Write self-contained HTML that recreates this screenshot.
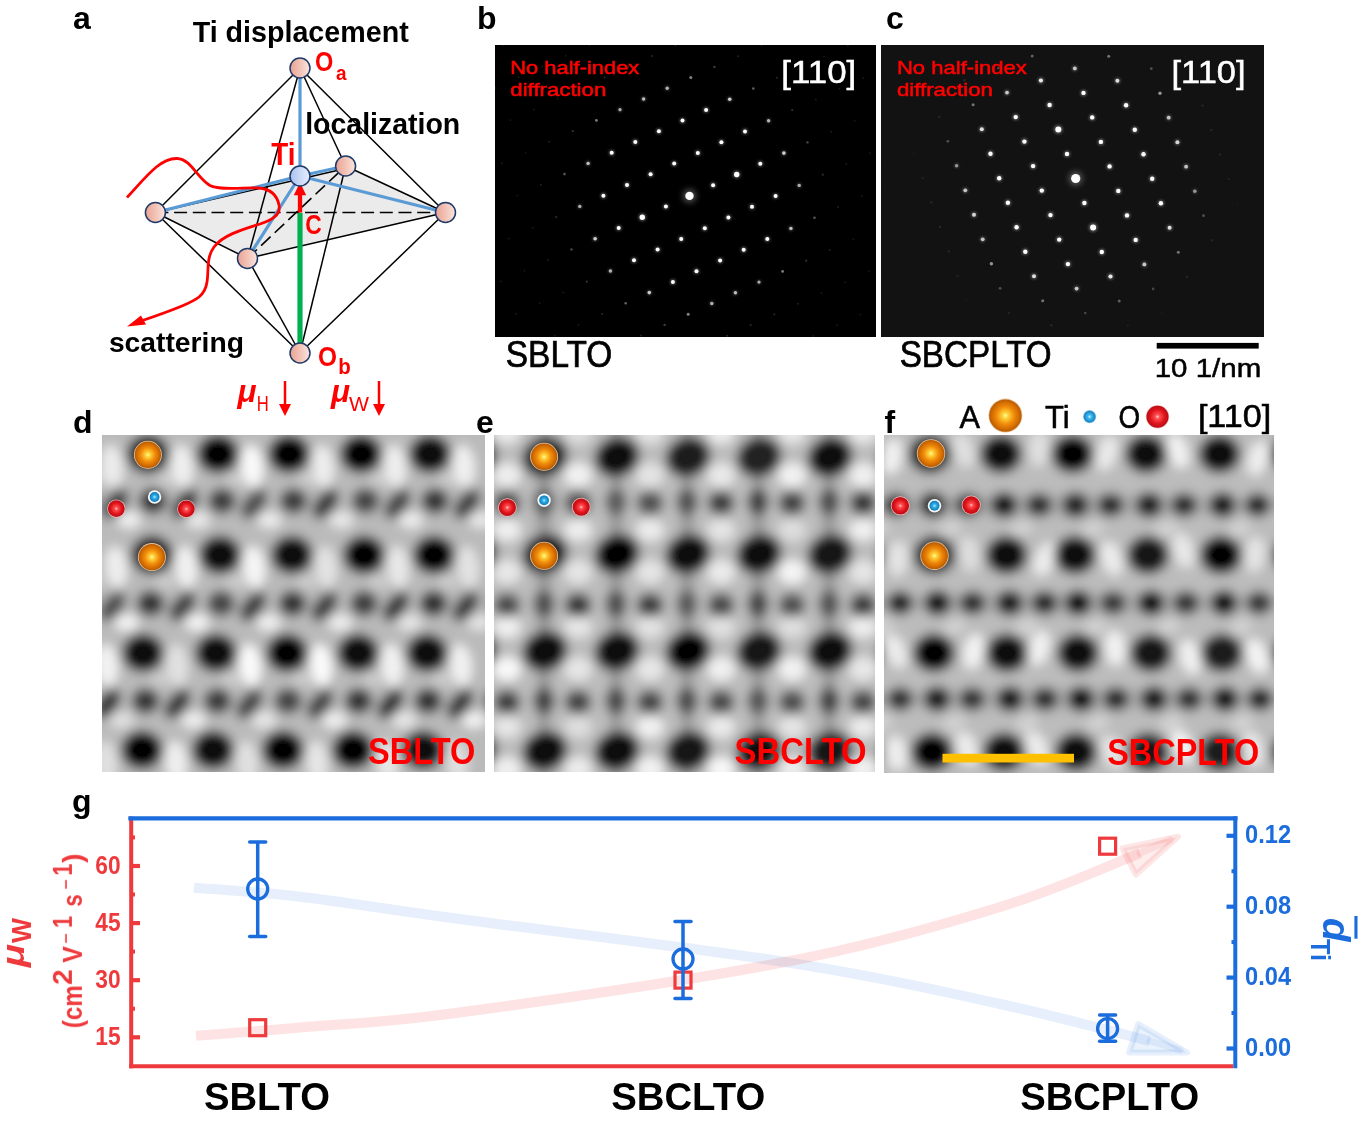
<!DOCTYPE html>
<html><head><meta charset="utf-8"><title>figure</title><style>
html,body{margin:0;padding:0;background:#fff;}
body{width:1371px;height:1147px;overflow:hidden;}
svg{display:block;will-change:transform;}
text{font-family:"Liberation Sans",sans-serif;}
</style></head><body>
<svg width="1371" height="1147" viewBox="0 0 1371 1147">
<defs>
<linearGradient id="gPink" x1="0" y1="0" x2="1" y2="0"><stop offset="0" stop-color="#e9a393"/><stop offset="0.55" stop-color="#f3c6ba"/><stop offset="1" stop-color="#fbe6e0"/></linearGradient>
<linearGradient id="gTi" x1="0" y1="0" x2="1" y2="0"><stop offset="0" stop-color="#a9c0ee"/><stop offset="0.55" stop-color="#cddcf8"/><stop offset="1" stop-color="#e6eeff"/></linearGradient>
<radialGradient id="gA" cx="0.5" cy="0.5" r="0.5"><stop offset="0" stop-color="#ffff9a"/><stop offset="0.18" stop-color="#ffd23a"/><stop offset="0.55" stop-color="#f08a0a"/><stop offset="0.85" stop-color="#d06a00"/><stop offset="1" stop-color="#b45a06"/></radialGradient>
<radialGradient id="gO" cx="0.5" cy="0.5" r="0.5"><stop offset="0" stop-color="#ffd0d0"/><stop offset="0.2" stop-color="#ff5050"/><stop offset="0.65" stop-color="#e0141c"/><stop offset="1" stop-color="#b80c14"/></radialGradient>
<radialGradient id="gB" cx="0.5" cy="0.5" r="0.5"><stop offset="0" stop-color="#b8f0ff"/><stop offset="0.35" stop-color="#30b0e8"/><stop offset="1" stop-color="#1078b8"/></radialGradient>
<radialGradient id="gB2" cx="0.5" cy="0.5" r="0.5"><stop offset="0" stop-color="#c8f4ff"/><stop offset="0.3" stop-color="#40b8ec"/><stop offset="0.8" stop-color="#1888c8"/><stop offset="1" stop-color="#60a8d8" stop-opacity="0.6"/></radialGradient>
<filter id="fb1" x="-5%" y="-5%" width="110%" height="110%"><feGaussianBlur stdDeviation="1"/></filter>
<filter id="glow" x="-100%" y="-100%" width="300%" height="300%"><feGaussianBlur stdDeviation="1.2"/></filter>
<filter id="glow2" x="-100%" y="-100%" width="300%" height="300%"><feGaussianBlur stdDeviation="3"/></filter>
<filter id="abf" x="0" y="0" width="100%" height="100%"><feGaussianBlur stdDeviation="5.5"/></filter>
<filter id="abf2" x="0" y="0" width="100%" height="100%"><feGaussianBlur stdDeviation="4"/></filter>
<clipPath id="cd"><rect x="102" y="435.5" width="383" height="336.1"/></clipPath>
<clipPath id="ce"><rect x="494.2" y="435.5" width="380.8" height="336.1"/></clipPath>
<clipPath id="cf"><rect x="884.2" y="435.5" width="389.8" height="337"/></clipPath>
<clipPath id="cb"><rect x="495" y="45" width="381" height="292"/></clipPath>
<clipPath id="cc"><rect x="881" y="45" width="383" height="292"/></clipPath>
</defs>
<rect width="1371" height="1147" fill="#fff"/>
<polygon points="155.4,212.5 345.6,166 445.5,212.5 247.5,258.4" fill="#ebebeb"/>
<line x1="155.4" y1="212.5" x2="445.5" y2="212.5" stroke="#000" stroke-width="1.6" stroke-dasharray="13,5.7"/>
<line x1="247.5" y1="258.4" x2="345.6" y2="166" stroke="#000" stroke-width="1.6" stroke-dasharray="13,5.7"/>
<line x1="300" y1="68" x2="155.4" y2="212.5" stroke="#000" stroke-width="1.5"/>
<line x1="300" y1="68" x2="445.5" y2="212.5" stroke="#000" stroke-width="1.5"/>
<line x1="300" y1="68" x2="247.5" y2="258.4" stroke="#000" stroke-width="1.5"/>
<line x1="300" y1="68" x2="345.6" y2="166" stroke="#000" stroke-width="1.5"/>
<line x1="300" y1="353" x2="155.4" y2="212.5" stroke="#000" stroke-width="1.5"/>
<line x1="300" y1="353" x2="445.5" y2="212.5" stroke="#000" stroke-width="1.5"/>
<line x1="300" y1="353" x2="247.5" y2="258.4" stroke="#000" stroke-width="1.5"/>
<line x1="300" y1="353" x2="345.6" y2="166" stroke="#000" stroke-width="1.5"/>
<line x1="155.4" y1="212.5" x2="247.5" y2="258.4" stroke="#000" stroke-width="1.5"/>
<line x1="247.5" y1="258.4" x2="445.5" y2="212.5" stroke="#000" stroke-width="1.5"/>
<line x1="445.5" y1="212.5" x2="345.6" y2="166" stroke="#000" stroke-width="1.5"/>
<line x1="155.4" y1="212.5" x2="345.6" y2="168.5" stroke="#000" stroke-width="1.5"/>
<line x1="300" y1="176" x2="300" y2="68" stroke="#5b9bd5" stroke-width="3.2"/>
<line x1="300" y1="176" x2="155.4" y2="212.5" stroke="#5b9bd5" stroke-width="3.2"/>
<line x1="300" y1="176" x2="445.5" y2="212.5" stroke="#5b9bd5" stroke-width="3.2"/>
<line x1="300" y1="176" x2="247.5" y2="258.4" stroke="#5b9bd5" stroke-width="3.2"/>
<line x1="300" y1="176" x2="345.6" y2="166" stroke="#5b9bd5" stroke-width="3.2"/>
<line x1="300" y1="213" x2="300" y2="345" stroke="#00b050" stroke-width="5.2"/>
<line x1="300" y1="212.5" x2="300" y2="193" stroke="#ff0000" stroke-width="4.3"/>
<polygon points="300,182.5 293.8,195.2 306.2,195.2" fill="#ff0000"/>
<path d="M127,197.5 C146,177 160,158 177,158.5 C191,159 197,178 210,185.5 C222,191 245,187 259,188 C270,189 277,195 279,205 C281,215 272,220 260,224 C240,230 222,236 214,247 C206,258 209,270 207,282 C205,296 196,300 182,306 C165,313 150,318 138,322" fill="none" stroke="#ff0000" stroke-width="2.8"/>
<polygon points="127,326.6 141,315.5 146,324.5" fill="#ff0000"/>
<circle cx="300" cy="68" r="10" fill="url(#gPink)" stroke="#1f3a68" stroke-width="1.5"/>
<circle cx="345.6" cy="166" r="10" fill="url(#gPink)" stroke="#1f3a68" stroke-width="1.5"/>
<circle cx="155.4" cy="212.5" r="10" fill="url(#gPink)" stroke="#1f3a68" stroke-width="1.5"/>
<circle cx="445.5" cy="212.5" r="10" fill="url(#gPink)" stroke="#1f3a68" stroke-width="1.5"/>
<circle cx="247.5" cy="258.4" r="10" fill="url(#gPink)" stroke="#1f3a68" stroke-width="1.5"/>
<circle cx="300" cy="353" r="10" fill="url(#gPink)" stroke="#1f3a68" stroke-width="1.5"/>
<circle cx="300" cy="176" r="10" fill="url(#gTi)" stroke="#1f3a68" stroke-width="1.5"/>
<text x="72.9" y="29.3" font-size="32" font-weight="bold" fill="#000" text-anchor="start" >a</text>
<text x="192.7" y="42.1" font-size="30" font-weight="bold" fill="#000" text-anchor="start" textLength="216" lengthAdjust="spacingAndGlyphs" >Ti displacement</text>
<text x="305.2" y="134.4" font-size="30" font-weight="bold" fill="#000" text-anchor="start" textLength="155" lengthAdjust="spacingAndGlyphs" >localization</text>
<text x="108.9" y="351.5" font-size="28" font-weight="bold" fill="#000" text-anchor="start" textLength="135" lengthAdjust="spacingAndGlyphs" >scattering</text>
<text x="271.2" y="164.8" font-size="30.5" font-weight="bold" fill="#ff0000" text-anchor="start" textLength="24.2" lengthAdjust="spacingAndGlyphs" >Ti</text>
<text x="305.3" y="234.2" font-size="28.5" font-weight="bold" fill="#ff0000" text-anchor="start" textLength="16.5" lengthAdjust="spacingAndGlyphs" >C</text>
<text x="315" y="71.3" font-size="27" font-weight="bold" fill="#ff0000" text-anchor="start" textLength="18.3" lengthAdjust="spacingAndGlyphs" >O</text>
<text x="336" y="79.8" font-size="20" font-weight="bold" fill="#ff0000" text-anchor="start" textLength="10.5" lengthAdjust="spacingAndGlyphs" >a</text>
<text x="318" y="366" font-size="27" font-weight="bold" fill="#ff0000" text-anchor="start" textLength="19" lengthAdjust="spacingAndGlyphs" >O</text>
<text x="338.3" y="374" font-size="21.5" font-weight="bold" fill="#ff0000" text-anchor="start" textLength="12.5" lengthAdjust="spacingAndGlyphs" >b</text>
<text x="237.5" y="402.2" font-size="31" font-weight="bold" fill="#ff0000" text-anchor="start" textLength="19" lengthAdjust="spacingAndGlyphs" font-style="italic">μ</text>
<text x="256.8" y="411" font-size="21.5" font-weight="normal" fill="#ff0000" text-anchor="start" textLength="12" lengthAdjust="spacingAndGlyphs" >H</text>
<text x="331" y="402.2" font-size="31" font-weight="bold" fill="#ff0000" text-anchor="start" textLength="19" lengthAdjust="spacingAndGlyphs" font-style="italic">μ</text>
<text x="349" y="411" font-size="21" font-weight="normal" fill="#ff0000" text-anchor="start" textLength="20" lengthAdjust="spacingAndGlyphs" >W</text>
<line x1="285" y1="381" x2="285" y2="408" stroke="#ff0000" stroke-width="2.5"/>
<polygon points="279,404 291,404 285,416" fill="#ff0000"/>
<line x1="379" y1="381" x2="379" y2="408" stroke="#ff0000" stroke-width="2.5"/>
<polygon points="373,404 385,404 379,416" fill="#ff0000"/>
<text x="477" y="29" font-size="32" font-weight="bold" fill="#000" text-anchor="start" >b</text>
<rect x="495" y="45" width="381" height="292" fill="#000"/>
<g clip-path="url(#cb)">
<circle cx="492.4" cy="324.5" r="1.0" fill="rgb(22,22,22)"/>
<circle cx="500.7" cy="281.5" r="1.0" fill="rgb(22,22,22)"/>
<circle cx="516.0" cy="313.8" r="1.0" fill="rgb(22,22,22)"/>
<circle cx="493.7" cy="206.2" r="1.0" fill="rgb(22,22,22)"/>
<circle cx="509.0" cy="238.5" r="1.0" fill="rgb(22,22,22)"/>
<circle cx="524.3" cy="270.8" r="1.0" fill="rgb(22,22,22)"/>
<circle cx="539.6" cy="303.1" r="1.0" fill="rgb(22,22,22)"/>
<circle cx="554.9" cy="335.4" r="1.0" fill="rgb(22,22,22)"/>
<circle cx="502.0" cy="163.2" r="1.0" fill="rgb(22,22,22)"/>
<circle cx="517.3" cy="195.5" r="1.0" fill="rgb(22,22,22)"/>
<circle cx="532.6" cy="227.8" r="1.0" fill="rgb(24,24,24)"/>
<circle cx="547.9" cy="260.1" r="1.0" fill="rgb(28,28,28)"/>
<circle cx="563.2" cy="292.4" r="1.0" fill="rgb(25,25,25)"/>
<circle cx="578.5" cy="324.7" r="1.0" fill="rgb(22,22,22)"/>
<circle cx="495.0" cy="87.9" r="1.0" fill="rgb(22,22,22)"/>
<circle cx="510.3" cy="120.2" r="1.0" fill="rgb(22,22,22)"/>
<circle cx="525.6" cy="152.5" r="1.0" fill="rgb(22,22,22)"/>
<circle cx="540.9" cy="184.8" r="1.0" fill="rgb(33,33,33)"/>
<circle cx="556.2" cy="217.1" r="1.1" fill="rgb(45,45,45)"/>
<circle cx="571.5" cy="249.4" r="1.2" fill="rgb(73,73,73)"/>
<circle cx="586.8" cy="281.7" r="1.1" fill="rgb(51,51,51)"/>
<circle cx="602.1" cy="314.0" r="1.1" fill="rgb(35,35,35)"/>
<circle cx="503.3" cy="44.9" r="1.0" fill="rgb(22,22,22)"/>
<circle cx="518.6" cy="77.2" r="1.0" fill="rgb(22,22,22)"/>
<circle cx="533.9" cy="109.5" r="1.0" fill="rgb(22,22,22)"/>
<circle cx="549.2" cy="141.8" r="1.0" fill="rgb(32,32,32)"/>
<circle cx="564.5" cy="174.1" r="1.3" fill="rgb(87,87,87)"/>
<circle cx="579.8" cy="206.4" r="2.6" fill="rgb(175,175,175)" opacity="0.25" filter="url(#glow)"/>
<circle cx="579.8" cy="206.4" r="1.7" fill="rgb(175,175,175)"/>
<circle cx="595.1" cy="238.7" r="2.9" fill="rgb(209,209,209)" opacity="0.25" filter="url(#glow)"/>
<circle cx="595.1" cy="238.7" r="1.8" fill="rgb(209,209,209)"/>
<circle cx="610.4" cy="271.0" r="2.7" fill="rgb(181,181,181)" opacity="0.25" filter="url(#glow)"/>
<circle cx="610.4" cy="271.0" r="1.7" fill="rgb(181,181,181)"/>
<circle cx="625.7" cy="303.3" r="1.3" fill="rgb(97,97,97)"/>
<circle cx="641.0" cy="335.6" r="1.0" fill="rgb(34,34,34)"/>
<circle cx="542.2" cy="66.5" r="1.0" fill="rgb(22,22,22)"/>
<circle cx="557.5" cy="98.8" r="1.0" fill="rgb(22,22,22)"/>
<circle cx="572.8" cy="131.1" r="1.1" fill="rgb(52,52,52)"/>
<circle cx="588.1" cy="163.4" r="2.8" fill="rgb(194,194,194)" opacity="0.25" filter="url(#glow)"/>
<circle cx="588.1" cy="163.4" r="1.7" fill="rgb(194,194,194)"/>
<circle cx="603.4" cy="195.7" r="3.2" fill="rgb(255,255,255)" opacity="0.25" filter="url(#glow)"/>
<circle cx="603.4" cy="195.7" r="2.0" fill="rgb(255,255,255)"/>
<circle cx="618.7" cy="228.0" r="3.2" fill="rgb(255,255,255)" opacity="0.25" filter="url(#glow)"/>
<circle cx="618.7" cy="228.0" r="2.0" fill="rgb(255,255,255)"/>
<circle cx="634.0" cy="260.3" r="3.2" fill="rgb(255,255,255)" opacity="0.25" filter="url(#glow)"/>
<circle cx="634.0" cy="260.3" r="2.0" fill="rgb(255,255,255)"/>
<circle cx="649.3" cy="292.6" r="2.8" fill="rgb(203,203,203)" opacity="0.25" filter="url(#glow)"/>
<circle cx="649.3" cy="292.6" r="1.8" fill="rgb(203,203,203)"/>
<circle cx="664.6" cy="324.9" r="1.2" fill="rgb(63,63,63)"/>
<circle cx="565.8" cy="55.8" r="1.0" fill="rgb(22,22,22)"/>
<circle cx="581.1" cy="88.1" r="1.0" fill="rgb(30,30,30)"/>
<circle cx="596.4" cy="120.4" r="1.4" fill="rgb(124,124,124)"/>
<circle cx="611.7" cy="152.7" r="3.2" fill="rgb(255,255,255)" opacity="0.25" filter="url(#glow)"/>
<circle cx="611.7" cy="152.7" r="2.0" fill="rgb(255,255,255)"/>
<circle cx="627.0" cy="185.0" r="3.2" fill="rgb(255,255,255)" opacity="0.25" filter="url(#glow)"/>
<circle cx="627.0" cy="185.0" r="2.0" fill="rgb(255,255,255)"/>
<circle cx="642.3" cy="217.3" r="4.3" fill="rgb(255,255,255)" opacity="0.25" filter="url(#glow)"/>
<circle cx="642.3" cy="217.3" r="2.7" fill="rgb(255,255,255)"/>
<circle cx="657.6" cy="249.6" r="3.2" fill="rgb(255,255,255)" opacity="0.25" filter="url(#glow)"/>
<circle cx="657.6" cy="249.6" r="2.0" fill="rgb(255,255,255)"/>
<circle cx="672.9" cy="281.9" r="3.2" fill="rgb(255,255,255)" opacity="0.25" filter="url(#glow)"/>
<circle cx="672.9" cy="281.9" r="2.0" fill="rgb(255,255,255)"/>
<circle cx="688.2" cy="314.2" r="1.5" fill="rgb(132,132,132)"/>
<circle cx="589.4" cy="45.1" r="1.0" fill="rgb(22,22,22)"/>
<circle cx="604.7" cy="77.4" r="1.1" fill="rgb(36,36,36)"/>
<circle cx="620.0" cy="109.7" r="2.6" fill="rgb(172,172,172)" opacity="0.25" filter="url(#glow)"/>
<circle cx="620.0" cy="109.7" r="1.6" fill="rgb(172,172,172)"/>
<circle cx="635.3" cy="142.0" r="3.2" fill="rgb(255,255,255)" opacity="0.25" filter="url(#glow)"/>
<circle cx="635.3" cy="142.0" r="2.0" fill="rgb(255,255,255)"/>
<circle cx="650.6" cy="174.3" r="3.2" fill="rgb(255,255,255)" opacity="0.25" filter="url(#glow)"/>
<circle cx="650.6" cy="174.3" r="2.0" fill="rgb(255,255,255)"/>
<circle cx="665.9" cy="206.6" r="3.2" fill="rgb(255,255,255)" opacity="0.25" filter="url(#glow)"/>
<circle cx="665.9" cy="206.6" r="2.0" fill="rgb(255,255,255)"/>
<circle cx="681.2" cy="238.9" r="3.2" fill="rgb(255,255,255)" opacity="0.25" filter="url(#glow)"/>
<circle cx="681.2" cy="238.9" r="2.0" fill="rgb(255,255,255)"/>
<circle cx="696.5" cy="271.2" r="3.2" fill="rgb(255,255,255)" opacity="0.25" filter="url(#glow)"/>
<circle cx="696.5" cy="271.2" r="2.0" fill="rgb(255,255,255)"/>
<circle cx="711.8" cy="303.5" r="2.7" fill="rgb(176,176,176)" opacity="0.25" filter="url(#glow)"/>
<circle cx="711.8" cy="303.5" r="1.7" fill="rgb(176,176,176)"/>
<circle cx="727.1" cy="335.8" r="1.1" fill="rgb(37,37,37)"/>
<circle cx="628.3" cy="66.7" r="1.1" fill="rgb(38,38,38)"/>
<circle cx="643.6" cy="99.0" r="2.8" fill="rgb(190,190,190)" opacity="0.25" filter="url(#glow)"/>
<circle cx="643.6" cy="99.0" r="1.7" fill="rgb(190,190,190)"/>
<circle cx="658.9" cy="131.3" r="3.2" fill="rgb(255,255,255)" opacity="0.25" filter="url(#glow)"/>
<circle cx="658.9" cy="131.3" r="2.0" fill="rgb(255,255,255)"/>
<circle cx="674.2" cy="163.6" r="3.2" fill="rgb(255,255,255)" opacity="0.25" filter="url(#glow)"/>
<circle cx="674.2" cy="163.6" r="2.0" fill="rgb(255,255,255)"/>
<circle cx="704.8" cy="228.2" r="3.2" fill="rgb(255,255,255)" opacity="0.25" filter="url(#glow)"/>
<circle cx="704.8" cy="228.2" r="2.0" fill="rgb(255,255,255)"/>
<circle cx="720.1" cy="260.5" r="3.2" fill="rgb(255,255,255)" opacity="0.25" filter="url(#glow)"/>
<circle cx="720.1" cy="260.5" r="2.0" fill="rgb(255,255,255)"/>
<circle cx="735.4" cy="292.8" r="2.8" fill="rgb(190,190,190)" opacity="0.25" filter="url(#glow)"/>
<circle cx="735.4" cy="292.8" r="1.7" fill="rgb(190,190,190)"/>
<circle cx="750.7" cy="325.1" r="1.1" fill="rgb(38,38,38)"/>
<circle cx="651.9" cy="56.0" r="1.1" fill="rgb(37,37,37)"/>
<circle cx="667.2" cy="88.3" r="2.7" fill="rgb(176,176,176)" opacity="0.25" filter="url(#glow)"/>
<circle cx="667.2" cy="88.3" r="1.7" fill="rgb(176,176,176)"/>
<circle cx="682.5" cy="120.6" r="3.2" fill="rgb(255,255,255)" opacity="0.25" filter="url(#glow)"/>
<circle cx="682.5" cy="120.6" r="2.0" fill="rgb(255,255,255)"/>
<circle cx="697.8" cy="152.9" r="3.2" fill="rgb(255,255,255)" opacity="0.25" filter="url(#glow)"/>
<circle cx="697.8" cy="152.9" r="2.0" fill="rgb(255,255,255)"/>
<circle cx="713.1" cy="185.2" r="3.2" fill="rgb(255,255,255)" opacity="0.25" filter="url(#glow)"/>
<circle cx="713.1" cy="185.2" r="2.0" fill="rgb(255,255,255)"/>
<circle cx="728.4" cy="217.5" r="3.2" fill="rgb(255,255,255)" opacity="0.25" filter="url(#glow)"/>
<circle cx="728.4" cy="217.5" r="2.0" fill="rgb(255,255,255)"/>
<circle cx="743.7" cy="249.8" r="3.2" fill="rgb(255,255,255)" opacity="0.25" filter="url(#glow)"/>
<circle cx="743.7" cy="249.8" r="2.0" fill="rgb(255,255,255)"/>
<circle cx="759.0" cy="282.1" r="2.6" fill="rgb(172,172,172)" opacity="0.25" filter="url(#glow)"/>
<circle cx="759.0" cy="282.1" r="1.6" fill="rgb(172,172,172)"/>
<circle cx="774.3" cy="314.4" r="1.1" fill="rgb(36,36,36)"/>
<circle cx="675.5" cy="45.3" r="1.0" fill="rgb(32,32,32)"/>
<circle cx="690.8" cy="77.6" r="1.5" fill="rgb(132,132,132)"/>
<circle cx="706.1" cy="109.9" r="3.2" fill="rgb(255,255,255)" opacity="0.25" filter="url(#glow)"/>
<circle cx="706.1" cy="109.9" r="2.0" fill="rgb(255,255,255)"/>
<circle cx="721.4" cy="142.2" r="3.2" fill="rgb(255,255,255)" opacity="0.25" filter="url(#glow)"/>
<circle cx="721.4" cy="142.2" r="2.0" fill="rgb(255,255,255)"/>
<circle cx="736.7" cy="174.5" r="4.3" fill="rgb(255,255,255)" opacity="0.25" filter="url(#glow)"/>
<circle cx="736.7" cy="174.5" r="2.7" fill="rgb(255,255,255)"/>
<circle cx="752.0" cy="206.8" r="3.2" fill="rgb(255,255,255)" opacity="0.25" filter="url(#glow)"/>
<circle cx="752.0" cy="206.8" r="2.0" fill="rgb(255,255,255)"/>
<circle cx="767.3" cy="239.1" r="3.2" fill="rgb(255,255,255)" opacity="0.25" filter="url(#glow)"/>
<circle cx="767.3" cy="239.1" r="2.0" fill="rgb(255,255,255)"/>
<circle cx="782.6" cy="271.4" r="1.4" fill="rgb(124,124,124)"/>
<circle cx="797.9" cy="303.7" r="1.0" fill="rgb(30,30,30)"/>
<circle cx="813.2" cy="336.0" r="1.0" fill="rgb(22,22,22)"/>
<circle cx="714.4" cy="66.9" r="1.2" fill="rgb(63,63,63)"/>
<circle cx="729.7" cy="99.2" r="2.8" fill="rgb(203,203,203)" opacity="0.25" filter="url(#glow)"/>
<circle cx="729.7" cy="99.2" r="1.8" fill="rgb(203,203,203)"/>
<circle cx="745.0" cy="131.5" r="3.2" fill="rgb(255,255,255)" opacity="0.25" filter="url(#glow)"/>
<circle cx="745.0" cy="131.5" r="2.0" fill="rgb(255,255,255)"/>
<circle cx="760.3" cy="163.8" r="3.2" fill="rgb(255,255,255)" opacity="0.25" filter="url(#glow)"/>
<circle cx="760.3" cy="163.8" r="2.0" fill="rgb(255,255,255)"/>
<circle cx="775.6" cy="196.1" r="3.2" fill="rgb(255,255,255)" opacity="0.25" filter="url(#glow)"/>
<circle cx="775.6" cy="196.1" r="2.0" fill="rgb(255,255,255)"/>
<circle cx="790.9" cy="228.4" r="2.8" fill="rgb(194,194,194)" opacity="0.25" filter="url(#glow)"/>
<circle cx="790.9" cy="228.4" r="1.7" fill="rgb(194,194,194)"/>
<circle cx="806.2" cy="260.7" r="1.1" fill="rgb(52,52,52)"/>
<circle cx="821.5" cy="293.0" r="1.0" fill="rgb(22,22,22)"/>
<circle cx="836.8" cy="325.3" r="1.0" fill="rgb(22,22,22)"/>
<circle cx="738.0" cy="56.2" r="1.0" fill="rgb(34,34,34)"/>
<circle cx="753.3" cy="88.5" r="1.3" fill="rgb(97,97,97)"/>
<circle cx="768.6" cy="120.8" r="2.7" fill="rgb(181,181,181)" opacity="0.25" filter="url(#glow)"/>
<circle cx="768.6" cy="120.8" r="1.7" fill="rgb(181,181,181)"/>
<circle cx="783.9" cy="153.1" r="2.9" fill="rgb(209,209,209)" opacity="0.25" filter="url(#glow)"/>
<circle cx="783.9" cy="153.1" r="1.8" fill="rgb(209,209,209)"/>
<circle cx="799.2" cy="185.4" r="2.6" fill="rgb(175,175,175)" opacity="0.25" filter="url(#glow)"/>
<circle cx="799.2" cy="185.4" r="1.7" fill="rgb(175,175,175)"/>
<circle cx="814.5" cy="217.7" r="1.3" fill="rgb(87,87,87)"/>
<circle cx="829.8" cy="250.0" r="1.0" fill="rgb(32,32,32)"/>
<circle cx="845.1" cy="282.3" r="1.0" fill="rgb(22,22,22)"/>
<circle cx="860.4" cy="314.6" r="1.0" fill="rgb(22,22,22)"/>
<circle cx="761.6" cy="45.5" r="1.0" fill="rgb(22,22,22)"/>
<circle cx="776.9" cy="77.8" r="1.1" fill="rgb(35,35,35)"/>
<circle cx="792.2" cy="110.1" r="1.1" fill="rgb(51,51,51)"/>
<circle cx="807.5" cy="142.4" r="1.2" fill="rgb(73,73,73)"/>
<circle cx="822.8" cy="174.7" r="1.1" fill="rgb(45,45,45)"/>
<circle cx="838.1" cy="207.0" r="1.0" fill="rgb(33,33,33)"/>
<circle cx="853.4" cy="239.3" r="1.0" fill="rgb(22,22,22)"/>
<circle cx="868.7" cy="271.6" r="1.0" fill="rgb(22,22,22)"/>
<circle cx="800.5" cy="67.1" r="1.0" fill="rgb(22,22,22)"/>
<circle cx="815.8" cy="99.4" r="1.0" fill="rgb(25,25,25)"/>
<circle cx="831.1" cy="131.7" r="1.0" fill="rgb(28,28,28)"/>
<circle cx="846.4" cy="164.0" r="1.0" fill="rgb(24,24,24)"/>
<circle cx="861.7" cy="196.3" r="1.0" fill="rgb(22,22,22)"/>
<circle cx="877.0" cy="228.6" r="1.0" fill="rgb(22,22,22)"/>
<circle cx="824.1" cy="56.4" r="1.0" fill="rgb(22,22,22)"/>
<circle cx="839.4" cy="88.7" r="1.0" fill="rgb(22,22,22)"/>
<circle cx="854.7" cy="121.0" r="1.0" fill="rgb(22,22,22)"/>
<circle cx="870.0" cy="153.3" r="1.0" fill="rgb(22,22,22)"/>
<circle cx="847.7" cy="45.7" r="1.0" fill="rgb(22,22,22)"/>
<circle cx="863.0" cy="78.0" r="1.0" fill="rgb(22,22,22)"/>
<circle cx="878.3" cy="110.3" r="1.0" fill="rgb(22,22,22)"/>
<circle cx="689.5" cy="195.9" r="6.5" fill="#fff" opacity="0.35" filter="url(#glow2)"/>
<circle cx="689.5" cy="195.9" r="4.2" fill="#fff"/>
</g>
<text x="510.3" y="73.6" font-size="18.5" font-weight="normal" fill="#ff0000" text-anchor="start" textLength="129" lengthAdjust="spacingAndGlyphs" stroke="#ff0000" stroke-width="0.55">No half-index</text>
<text x="510.3" y="95.9" font-size="18.5" font-weight="normal" fill="#ff0000" text-anchor="start" textLength="96" lengthAdjust="spacingAndGlyphs" stroke="#ff0000" stroke-width="0.55">diffraction</text>
<text x="781.3" y="83.2" font-size="31" font-weight="normal" fill="#fff" text-anchor="start" textLength="75" lengthAdjust="spacingAndGlyphs" stroke="#fff" stroke-width="0.5">[110]</text>
<text x="505.8" y="367.1" font-size="36.5" font-weight="normal" fill="#000" text-anchor="start" textLength="106.5" lengthAdjust="spacingAndGlyphs" stroke="#000" stroke-width="0.7">SBLTO</text>
<text x="886" y="29" font-size="32" font-weight="bold" fill="#000" text-anchor="start" >c</text>
<rect x="881" y="45" width="383" height="292" fill="#121212"/>
<g clip-path="url(#cc)">
<circle cx="881.0" cy="275.6" r="1.1" fill="rgb(22,22,22)"/>
<circle cx="889.7" cy="300.1" r="1.1" fill="rgb(22,22,22)"/>
<circle cx="898.4" cy="324.6" r="1.1" fill="rgb(22,22,22)"/>
<circle cx="880.1" cy="165.5" r="1.1" fill="rgb(22,22,22)"/>
<circle cx="888.8" cy="190.0" r="1.1" fill="rgb(22,22,22)"/>
<circle cx="897.5" cy="214.5" r="1.1" fill="rgb(22,22,22)"/>
<circle cx="906.2" cy="239.0" r="1.1" fill="rgb(22,22,22)"/>
<circle cx="914.9" cy="263.5" r="1.1" fill="rgb(22,22,22)"/>
<circle cx="923.6" cy="288.0" r="1.1" fill="rgb(22,22,22)"/>
<circle cx="932.3" cy="312.5" r="1.1" fill="rgb(22,22,22)"/>
<circle cx="941.0" cy="337.0" r="1.1" fill="rgb(22,22,22)"/>
<circle cx="879.2" cy="55.4" r="1.1" fill="rgb(22,22,22)"/>
<circle cx="887.9" cy="79.9" r="1.1" fill="rgb(22,22,22)"/>
<circle cx="896.6" cy="104.4" r="1.1" fill="rgb(22,22,22)"/>
<circle cx="905.3" cy="128.9" r="1.1" fill="rgb(22,22,22)"/>
<circle cx="914.0" cy="153.4" r="1.1" fill="rgb(26,26,26)"/>
<circle cx="922.7" cy="177.9" r="1.2" fill="rgb(34,34,34)"/>
<circle cx="931.4" cy="202.4" r="1.2" fill="rgb(39,39,39)"/>
<circle cx="940.1" cy="226.9" r="1.2" fill="rgb(41,41,41)"/>
<circle cx="948.8" cy="251.4" r="1.2" fill="rgb(39,39,39)"/>
<circle cx="957.5" cy="275.9" r="1.2" fill="rgb(34,34,34)"/>
<circle cx="966.2" cy="300.4" r="1.1" fill="rgb(25,25,25)"/>
<circle cx="974.9" cy="324.9" r="1.1" fill="rgb(22,22,22)"/>
<circle cx="913.1" cy="43.3" r="1.1" fill="rgb(22,22,22)"/>
<circle cx="921.8" cy="67.8" r="1.1" fill="rgb(22,22,22)"/>
<circle cx="930.5" cy="92.3" r="1.1" fill="rgb(22,22,22)"/>
<circle cx="939.2" cy="116.8" r="1.2" fill="rgb(37,37,37)"/>
<circle cx="947.9" cy="141.3" r="1.4" fill="rgb(81,81,81)"/>
<circle cx="956.6" cy="165.8" r="2.7" fill="rgb(151,151,151)" opacity="0.25" filter="url(#glow)"/>
<circle cx="956.6" cy="165.8" r="1.7" fill="rgb(151,151,151)"/>
<circle cx="965.3" cy="190.3" r="3.1" fill="rgb(197,197,197)" opacity="0.25" filter="url(#glow)"/>
<circle cx="965.3" cy="190.3" r="1.9" fill="rgb(197,197,197)"/>
<circle cx="974.0" cy="214.8" r="3.2" fill="rgb(213,213,213)" opacity="0.25" filter="url(#glow)"/>
<circle cx="974.0" cy="214.8" r="2.0" fill="rgb(213,213,213)"/>
<circle cx="982.7" cy="239.3" r="3.1" fill="rgb(196,196,196)" opacity="0.25" filter="url(#glow)"/>
<circle cx="982.7" cy="239.3" r="1.9" fill="rgb(196,196,196)"/>
<circle cx="991.4" cy="263.8" r="1.7" fill="rgb(150,150,150)"/>
<circle cx="1000.1" cy="288.3" r="1.4" fill="rgb(80,80,80)"/>
<circle cx="1008.8" cy="312.8" r="1.2" fill="rgb(36,36,36)"/>
<circle cx="1017.5" cy="337.3" r="1.1" fill="rgb(22,22,22)"/>
<circle cx="955.7" cy="55.7" r="1.1" fill="rgb(22,22,22)"/>
<circle cx="964.4" cy="80.2" r="1.2" fill="rgb(38,38,38)"/>
<circle cx="973.1" cy="104.7" r="1.5" fill="rgb(116,116,116)"/>
<circle cx="981.8" cy="129.2" r="3.3" fill="rgb(223,223,223)" opacity="0.25" filter="url(#glow)"/>
<circle cx="981.8" cy="129.2" r="2.0" fill="rgb(223,223,223)"/>
<circle cx="990.5" cy="153.7" r="3.5" fill="rgb(255,255,255)" opacity="0.25" filter="url(#glow)"/>
<circle cx="990.5" cy="153.7" r="2.2" fill="rgb(255,255,255)"/>
<circle cx="999.2" cy="178.2" r="3.5" fill="rgb(255,255,255)" opacity="0.25" filter="url(#glow)"/>
<circle cx="999.2" cy="178.2" r="2.2" fill="rgb(255,255,255)"/>
<circle cx="1007.9" cy="202.7" r="3.5" fill="rgb(255,255,255)" opacity="0.25" filter="url(#glow)"/>
<circle cx="1007.9" cy="202.7" r="2.2" fill="rgb(255,255,255)"/>
<circle cx="1016.6" cy="227.2" r="3.5" fill="rgb(255,255,255)" opacity="0.25" filter="url(#glow)"/>
<circle cx="1016.6" cy="227.2" r="2.2" fill="rgb(255,255,255)"/>
<circle cx="1025.3" cy="251.7" r="3.5" fill="rgb(255,255,255)" opacity="0.25" filter="url(#glow)"/>
<circle cx="1025.3" cy="251.7" r="2.2" fill="rgb(255,255,255)"/>
<circle cx="1034.0" cy="276.2" r="3.3" fill="rgb(222,222,222)" opacity="0.25" filter="url(#glow)"/>
<circle cx="1034.0" cy="276.2" r="2.0" fill="rgb(222,222,222)"/>
<circle cx="1042.7" cy="300.7" r="1.5" fill="rgb(115,115,115)"/>
<circle cx="1051.4" cy="325.2" r="1.2" fill="rgb(38,38,38)"/>
<circle cx="989.6" cy="43.6" r="1.1" fill="rgb(28,28,28)"/>
<circle cx="998.3" cy="68.1" r="1.3" fill="rgb(72,72,72)"/>
<circle cx="1007.0" cy="92.6" r="3.1" fill="rgb(202,202,202)" opacity="0.25" filter="url(#glow)"/>
<circle cx="1007.0" cy="92.6" r="1.9" fill="rgb(202,202,202)"/>
<circle cx="1015.7" cy="117.1" r="3.5" fill="rgb(255,255,255)" opacity="0.25" filter="url(#glow)"/>
<circle cx="1015.7" cy="117.1" r="2.2" fill="rgb(255,255,255)"/>
<circle cx="1024.4" cy="141.6" r="3.5" fill="rgb(255,255,255)" opacity="0.25" filter="url(#glow)"/>
<circle cx="1024.4" cy="141.6" r="2.2" fill="rgb(255,255,255)"/>
<circle cx="1033.1" cy="166.1" r="3.5" fill="rgb(255,255,255)" opacity="0.25" filter="url(#glow)"/>
<circle cx="1033.1" cy="166.1" r="2.2" fill="rgb(255,255,255)"/>
<circle cx="1041.8" cy="190.6" r="3.5" fill="rgb(255,255,255)" opacity="0.25" filter="url(#glow)"/>
<circle cx="1041.8" cy="190.6" r="2.2" fill="rgb(255,255,255)"/>
<circle cx="1050.5" cy="215.1" r="3.5" fill="rgb(255,255,255)" opacity="0.25" filter="url(#glow)"/>
<circle cx="1050.5" cy="215.1" r="2.2" fill="rgb(255,255,255)"/>
<circle cx="1059.2" cy="239.6" r="3.5" fill="rgb(255,255,255)" opacity="0.25" filter="url(#glow)"/>
<circle cx="1059.2" cy="239.6" r="2.2" fill="rgb(255,255,255)"/>
<circle cx="1067.9" cy="264.1" r="3.5" fill="rgb(255,255,255)" opacity="0.25" filter="url(#glow)"/>
<circle cx="1067.9" cy="264.1" r="2.2" fill="rgb(255,255,255)"/>
<circle cx="1076.6" cy="288.6" r="3.1" fill="rgb(201,201,201)" opacity="0.25" filter="url(#glow)"/>
<circle cx="1076.6" cy="288.6" r="1.9" fill="rgb(201,201,201)"/>
<circle cx="1085.3" cy="313.1" r="1.3" fill="rgb(71,71,71)"/>
<circle cx="1094.0" cy="337.6" r="1.1" fill="rgb(28,28,28)"/>
<circle cx="1032.2" cy="56.0" r="1.5" fill="rgb(97,97,97)"/>
<circle cx="1040.9" cy="80.5" r="3.4" fill="rgb(234,234,234)" opacity="0.25" filter="url(#glow)"/>
<circle cx="1040.9" cy="80.5" r="2.1" fill="rgb(234,234,234)"/>
<circle cx="1049.6" cy="105.0" r="3.5" fill="rgb(255,255,255)" opacity="0.25" filter="url(#glow)"/>
<circle cx="1049.6" cy="105.0" r="2.2" fill="rgb(255,255,255)"/>
<circle cx="1058.3" cy="129.5" r="4.8" fill="rgb(255,255,255)" opacity="0.25" filter="url(#glow)"/>
<circle cx="1058.3" cy="129.5" r="3.0" fill="rgb(255,255,255)"/>
<circle cx="1067.0" cy="154.0" r="3.5" fill="rgb(255,255,255)" opacity="0.25" filter="url(#glow)"/>
<circle cx="1067.0" cy="154.0" r="2.2" fill="rgb(255,255,255)"/>
<circle cx="1084.4" cy="203.0" r="3.5" fill="rgb(255,255,255)" opacity="0.25" filter="url(#glow)"/>
<circle cx="1084.4" cy="203.0" r="2.2" fill="rgb(255,255,255)"/>
<circle cx="1093.1" cy="227.5" r="4.8" fill="rgb(255,255,255)" opacity="0.25" filter="url(#glow)"/>
<circle cx="1093.1" cy="227.5" r="3.0" fill="rgb(255,255,255)"/>
<circle cx="1101.8" cy="252.0" r="3.5" fill="rgb(255,255,255)" opacity="0.25" filter="url(#glow)"/>
<circle cx="1101.8" cy="252.0" r="2.2" fill="rgb(255,255,255)"/>
<circle cx="1110.5" cy="276.5" r="3.4" fill="rgb(234,234,234)" opacity="0.25" filter="url(#glow)"/>
<circle cx="1110.5" cy="276.5" r="2.1" fill="rgb(234,234,234)"/>
<circle cx="1119.2" cy="301.0" r="1.5" fill="rgb(97,97,97)"/>
<circle cx="1127.9" cy="325.5" r="1.1" fill="rgb(32,32,32)"/>
<circle cx="1066.1" cy="43.9" r="1.3" fill="rgb(71,71,71)"/>
<circle cx="1074.8" cy="68.4" r="3.1" fill="rgb(201,201,201)" opacity="0.25" filter="url(#glow)"/>
<circle cx="1074.8" cy="68.4" r="1.9" fill="rgb(201,201,201)"/>
<circle cx="1083.5" cy="92.9" r="3.5" fill="rgb(255,255,255)" opacity="0.25" filter="url(#glow)"/>
<circle cx="1083.5" cy="92.9" r="2.2" fill="rgb(255,255,255)"/>
<circle cx="1092.2" cy="117.4" r="3.5" fill="rgb(255,255,255)" opacity="0.25" filter="url(#glow)"/>
<circle cx="1092.2" cy="117.4" r="2.2" fill="rgb(255,255,255)"/>
<circle cx="1100.9" cy="141.9" r="3.5" fill="rgb(255,255,255)" opacity="0.25" filter="url(#glow)"/>
<circle cx="1100.9" cy="141.9" r="2.2" fill="rgb(255,255,255)"/>
<circle cx="1109.6" cy="166.4" r="3.5" fill="rgb(255,255,255)" opacity="0.25" filter="url(#glow)"/>
<circle cx="1109.6" cy="166.4" r="2.2" fill="rgb(255,255,255)"/>
<circle cx="1118.3" cy="190.9" r="3.5" fill="rgb(255,255,255)" opacity="0.25" filter="url(#glow)"/>
<circle cx="1118.3" cy="190.9" r="2.2" fill="rgb(255,255,255)"/>
<circle cx="1127.0" cy="215.4" r="3.5" fill="rgb(255,255,255)" opacity="0.25" filter="url(#glow)"/>
<circle cx="1127.0" cy="215.4" r="2.2" fill="rgb(255,255,255)"/>
<circle cx="1135.7" cy="239.9" r="3.5" fill="rgb(255,255,255)" opacity="0.25" filter="url(#glow)"/>
<circle cx="1135.7" cy="239.9" r="2.2" fill="rgb(255,255,255)"/>
<circle cx="1144.4" cy="264.4" r="3.1" fill="rgb(202,202,202)" opacity="0.25" filter="url(#glow)"/>
<circle cx="1144.4" cy="264.4" r="1.9" fill="rgb(202,202,202)"/>
<circle cx="1153.1" cy="288.9" r="1.3" fill="rgb(72,72,72)"/>
<circle cx="1161.8" cy="313.4" r="1.1" fill="rgb(28,28,28)"/>
<circle cx="1170.5" cy="337.9" r="1.1" fill="rgb(22,22,22)"/>
<circle cx="1108.7" cy="56.3" r="1.5" fill="rgb(115,115,115)"/>
<circle cx="1117.4" cy="80.8" r="3.3" fill="rgb(222,222,222)" opacity="0.25" filter="url(#glow)"/>
<circle cx="1117.4" cy="80.8" r="2.0" fill="rgb(222,222,222)"/>
<circle cx="1126.1" cy="105.3" r="3.5" fill="rgb(255,255,255)" opacity="0.25" filter="url(#glow)"/>
<circle cx="1126.1" cy="105.3" r="2.2" fill="rgb(255,255,255)"/>
<circle cx="1134.8" cy="129.8" r="3.5" fill="rgb(255,255,255)" opacity="0.25" filter="url(#glow)"/>
<circle cx="1134.8" cy="129.8" r="2.2" fill="rgb(255,255,255)"/>
<circle cx="1143.5" cy="154.3" r="3.5" fill="rgb(255,255,255)" opacity="0.25" filter="url(#glow)"/>
<circle cx="1143.5" cy="154.3" r="2.2" fill="rgb(255,255,255)"/>
<circle cx="1152.2" cy="178.8" r="3.5" fill="rgb(255,255,255)" opacity="0.25" filter="url(#glow)"/>
<circle cx="1152.2" cy="178.8" r="2.2" fill="rgb(255,255,255)"/>
<circle cx="1160.9" cy="203.3" r="3.5" fill="rgb(255,255,255)" opacity="0.25" filter="url(#glow)"/>
<circle cx="1160.9" cy="203.3" r="2.2" fill="rgb(255,255,255)"/>
<circle cx="1169.6" cy="227.8" r="3.3" fill="rgb(223,223,223)" opacity="0.25" filter="url(#glow)"/>
<circle cx="1169.6" cy="227.8" r="2.0" fill="rgb(223,223,223)"/>
<circle cx="1178.3" cy="252.3" r="1.5" fill="rgb(116,116,116)"/>
<circle cx="1187.0" cy="276.8" r="1.2" fill="rgb(38,38,38)"/>
<circle cx="1195.7" cy="301.3" r="1.1" fill="rgb(22,22,22)"/>
<circle cx="1204.4" cy="325.8" r="1.1" fill="rgb(22,22,22)"/>
<circle cx="1142.6" cy="44.2" r="1.2" fill="rgb(36,36,36)"/>
<circle cx="1151.3" cy="68.7" r="1.4" fill="rgb(80,80,80)"/>
<circle cx="1160.0" cy="93.2" r="1.7" fill="rgb(150,150,150)"/>
<circle cx="1168.7" cy="117.7" r="3.1" fill="rgb(196,196,196)" opacity="0.25" filter="url(#glow)"/>
<circle cx="1168.7" cy="117.7" r="1.9" fill="rgb(196,196,196)"/>
<circle cx="1177.4" cy="142.2" r="3.2" fill="rgb(213,213,213)" opacity="0.25" filter="url(#glow)"/>
<circle cx="1177.4" cy="142.2" r="2.0" fill="rgb(213,213,213)"/>
<circle cx="1186.1" cy="166.7" r="3.1" fill="rgb(197,197,197)" opacity="0.25" filter="url(#glow)"/>
<circle cx="1186.1" cy="166.7" r="1.9" fill="rgb(197,197,197)"/>
<circle cx="1194.8" cy="191.2" r="2.7" fill="rgb(151,151,151)" opacity="0.25" filter="url(#glow)"/>
<circle cx="1194.8" cy="191.2" r="1.7" fill="rgb(151,151,151)"/>
<circle cx="1203.5" cy="215.7" r="1.4" fill="rgb(81,81,81)"/>
<circle cx="1212.2" cy="240.2" r="1.2" fill="rgb(37,37,37)"/>
<circle cx="1220.9" cy="264.7" r="1.1" fill="rgb(22,22,22)"/>
<circle cx="1229.6" cy="289.2" r="1.1" fill="rgb(22,22,22)"/>
<circle cx="1238.3" cy="313.7" r="1.1" fill="rgb(22,22,22)"/>
<circle cx="1247.0" cy="338.2" r="1.1" fill="rgb(22,22,22)"/>
<circle cx="1185.2" cy="56.6" r="1.1" fill="rgb(25,25,25)"/>
<circle cx="1193.9" cy="81.1" r="1.2" fill="rgb(34,34,34)"/>
<circle cx="1202.6" cy="105.6" r="1.2" fill="rgb(39,39,39)"/>
<circle cx="1211.3" cy="130.1" r="1.2" fill="rgb(41,41,41)"/>
<circle cx="1220.0" cy="154.6" r="1.2" fill="rgb(39,39,39)"/>
<circle cx="1228.7" cy="179.1" r="1.2" fill="rgb(34,34,34)"/>
<circle cx="1237.4" cy="203.6" r="1.1" fill="rgb(26,26,26)"/>
<circle cx="1246.1" cy="228.1" r="1.1" fill="rgb(22,22,22)"/>
<circle cx="1254.8" cy="252.6" r="1.1" fill="rgb(22,22,22)"/>
<circle cx="1263.5" cy="277.1" r="1.1" fill="rgb(22,22,22)"/>
<circle cx="1219.1" cy="44.5" r="1.1" fill="rgb(22,22,22)"/>
<circle cx="1227.8" cy="69.0" r="1.1" fill="rgb(22,22,22)"/>
<circle cx="1236.5" cy="93.5" r="1.1" fill="rgb(22,22,22)"/>
<circle cx="1245.2" cy="118.0" r="1.1" fill="rgb(22,22,22)"/>
<circle cx="1253.9" cy="142.5" r="1.1" fill="rgb(22,22,22)"/>
<circle cx="1262.6" cy="167.0" r="1.1" fill="rgb(22,22,22)"/>
<circle cx="1261.7" cy="56.9" r="1.1" fill="rgb(22,22,22)"/>
<circle cx="1075.7" cy="178.5" r="6.5" fill="#fff" opacity="0.35" filter="url(#glow2)"/>
<circle cx="1075.7" cy="178.5" r="4.6" fill="#fff"/>
</g>
<text x="896.9" y="73.6" font-size="18.5" font-weight="normal" fill="#ff0000" text-anchor="start" textLength="130" lengthAdjust="spacingAndGlyphs" stroke="#ff0000" stroke-width="0.55">No half-index</text>
<text x="896.9" y="95.9" font-size="18.5" font-weight="normal" fill="#ff0000" text-anchor="start" textLength="96" lengthAdjust="spacingAndGlyphs" stroke="#ff0000" stroke-width="0.55">diffraction</text>
<text x="1171.5" y="83.2" font-size="31" font-weight="normal" fill="#fff" text-anchor="start" textLength="74" lengthAdjust="spacingAndGlyphs" stroke="#fff" stroke-width="0.5">[110]</text>
<text x="899.7" y="367" font-size="36.5" font-weight="normal" fill="#000" text-anchor="start" textLength="152" lengthAdjust="spacingAndGlyphs" stroke="#000" stroke-width="0.7">SBCPLTO</text>
<rect x="1156.7" y="342.9" width="102" height="5.7" fill="#000"/>
<text x="1154.7" y="376.6" font-size="26" font-weight="normal" fill="#000" text-anchor="start" textLength="106.5" lengthAdjust="spacingAndGlyphs" stroke="#000" stroke-width="0.5">10 1/nm</text>
<text x="72.9" y="433" font-size="32" font-weight="bold" fill="#000" text-anchor="start" >d</text>
<g clip-path="url(#cd)">
<rect x="102" y="435.5" width="383" height="336.1" fill="#bababa"/>
<g filter="url(#abf)">
<rect x="72" y="405.5" width="443" height="396.1" fill="#bababa"/>
<ellipse cx="112.0" cy="466.0" rx="11" ry="21" fill="#fff" opacity="0.73" transform="rotate(-6 112.0 466.0)"/>
<ellipse cx="182.0" cy="466.0" rx="11" ry="21" fill="#fff" opacity="0.77" transform="rotate(-6 182.0 466.0)"/>
<ellipse cx="252.0" cy="466.0" rx="11" ry="21" fill="#fff" opacity="0.92" transform="rotate(-6 252.0 466.0)"/>
<ellipse cx="323.0" cy="466.0" rx="11" ry="21" fill="#fff" opacity="0.74" transform="rotate(-6 323.0 466.0)"/>
<ellipse cx="395.0" cy="466.0" rx="11" ry="21" fill="#fff" opacity="0.75" transform="rotate(-6 395.0 466.0)"/>
<ellipse cx="464.0" cy="466.0" rx="11" ry="21" fill="#fff" opacity="0.78" transform="rotate(-6 464.0 466.0)"/>
<ellipse cx="534.0" cy="466.0" rx="11" ry="21" fill="#fff" opacity="0.62" transform="rotate(-6 534.0 466.0)"/>
<ellipse cx="116.0" cy="567.0" rx="11" ry="21" fill="#fff" opacity="0.75" transform="rotate(-6 116.0 567.0)"/>
<ellipse cx="186.0" cy="567.0" rx="11" ry="21" fill="#fff" opacity="0.80" transform="rotate(-6 186.0 567.0)"/>
<ellipse cx="254.0" cy="567.0" rx="11" ry="21" fill="#fff" opacity="0.87" transform="rotate(-6 254.0 567.0)"/>
<ellipse cx="326.0" cy="567.0" rx="11" ry="21" fill="#fff" opacity="0.59" transform="rotate(-6 326.0 567.0)"/>
<ellipse cx="398.0" cy="567.0" rx="11" ry="21" fill="#fff" opacity="0.67" transform="rotate(-6 398.0 567.0)"/>
<ellipse cx="468.0" cy="567.0" rx="11" ry="21" fill="#fff" opacity="0.59" transform="rotate(-6 468.0 567.0)"/>
<ellipse cx="538.0" cy="567.0" rx="11" ry="21" fill="#fff" opacity="0.87" transform="rotate(-6 538.0 567.0)"/>
<ellipse cx="107.0" cy="665.0" rx="11" ry="21" fill="#fff" opacity="0.83" transform="rotate(-6 107.0 665.0)"/>
<ellipse cx="177.0" cy="665.0" rx="11" ry="21" fill="#fff" opacity="0.57" transform="rotate(-6 177.0 665.0)"/>
<ellipse cx="250.0" cy="665.0" rx="11" ry="21" fill="#fff" opacity="0.94" transform="rotate(-6 250.0 665.0)"/>
<ellipse cx="321.0" cy="665.0" rx="11" ry="21" fill="#fff" opacity="0.94" transform="rotate(-6 321.0 665.0)"/>
<ellipse cx="392.0" cy="665.0" rx="11" ry="21" fill="#fff" opacity="0.81" transform="rotate(-6 392.0 665.0)"/>
<ellipse cx="461.0" cy="665.0" rx="11" ry="21" fill="#fff" opacity="0.80" transform="rotate(-6 461.0 665.0)"/>
<ellipse cx="531.0" cy="665.0" rx="11" ry="21" fill="#fff" opacity="0.61" transform="rotate(-6 531.0 665.0)"/>
<ellipse cx="106.0" cy="762.0" rx="11" ry="21" fill="#fff" opacity="0.56" transform="rotate(-6 106.0 762.0)"/>
<ellipse cx="176.0" cy="762.0" rx="11" ry="21" fill="#fff" opacity="0.76" transform="rotate(-6 176.0 762.0)"/>
<ellipse cx="247.0" cy="762.0" rx="11" ry="21" fill="#fff" opacity="0.57" transform="rotate(-6 247.0 762.0)"/>
<ellipse cx="317.0" cy="762.0" rx="11" ry="21" fill="#fff" opacity="0.63" transform="rotate(-6 317.0 762.0)"/>
<ellipse cx="387.0" cy="762.0" rx="11" ry="21" fill="#fff" opacity="0.65" transform="rotate(-6 387.0 762.0)"/>
<ellipse cx="457.0" cy="762.0" rx="11" ry="21" fill="#fff" opacity="0.56" transform="rotate(-6 457.0 762.0)"/>
<ellipse cx="527.0" cy="762.0" rx="11" ry="21" fill="#fff" opacity="0.74" transform="rotate(-6 527.0 762.0)"/>
<ellipse cx="59.0" cy="520.0" rx="12" ry="8" fill="#fff" opacity="0.68"/>
<ellipse cx="97.0" cy="479.0" rx="10" ry="6" fill="#fff" opacity="0.30"/>
<ellipse cx="129.0" cy="520.0" rx="12" ry="8" fill="#fff" opacity="0.80"/>
<ellipse cx="167.0" cy="479.0" rx="10" ry="6" fill="#fff" opacity="0.30"/>
<ellipse cx="198.0" cy="520.0" rx="12" ry="8" fill="#fff" opacity="0.71"/>
<ellipse cx="236.0" cy="479.0" rx="10" ry="6" fill="#fff" opacity="0.30"/>
<ellipse cx="269.5" cy="520.0" rx="12" ry="8" fill="#fff" opacity="0.74"/>
<ellipse cx="307.5" cy="479.0" rx="10" ry="6" fill="#fff" opacity="0.30"/>
<ellipse cx="341.5" cy="520.0" rx="12" ry="8" fill="#fff" opacity="0.70"/>
<ellipse cx="379.5" cy="479.0" rx="10" ry="6" fill="#fff" opacity="0.30"/>
<ellipse cx="411.0" cy="520.0" rx="12" ry="8" fill="#fff" opacity="0.75"/>
<ellipse cx="449.0" cy="479.0" rx="10" ry="6" fill="#fff" opacity="0.30"/>
<ellipse cx="481.0" cy="520.0" rx="12" ry="8" fill="#fff" opacity="0.69"/>
<ellipse cx="519.0" cy="479.0" rx="10" ry="6" fill="#fff" opacity="0.30"/>
<ellipse cx="56.5" cy="622.5" rx="12" ry="8" fill="#fff" opacity="0.63"/>
<ellipse cx="94.5" cy="581.5" rx="10" ry="6" fill="#fff" opacity="0.30"/>
<ellipse cx="126.5" cy="622.5" rx="12" ry="8" fill="#fff" opacity="0.85"/>
<ellipse cx="164.5" cy="581.5" rx="10" ry="6" fill="#fff" opacity="0.30"/>
<ellipse cx="197.0" cy="622.5" rx="12" ry="8" fill="#fff" opacity="0.85"/>
<ellipse cx="235.0" cy="581.5" rx="10" ry="6" fill="#fff" opacity="0.30"/>
<ellipse cx="268.5" cy="622.5" rx="12" ry="8" fill="#fff" opacity="0.80"/>
<ellipse cx="306.5" cy="581.5" rx="10" ry="6" fill="#fff" opacity="0.30"/>
<ellipse cx="340.0" cy="622.5" rx="12" ry="8" fill="#fff" opacity="0.76"/>
<ellipse cx="378.0" cy="581.5" rx="10" ry="6" fill="#fff" opacity="0.30"/>
<ellipse cx="409.5" cy="622.5" rx="12" ry="8" fill="#fff" opacity="0.64"/>
<ellipse cx="447.5" cy="581.5" rx="10" ry="6" fill="#fff" opacity="0.30"/>
<ellipse cx="479.5" cy="622.5" rx="12" ry="8" fill="#fff" opacity="0.62"/>
<ellipse cx="517.5" cy="581.5" rx="10" ry="6" fill="#fff" opacity="0.30"/>
<ellipse cx="51.5" cy="720.0" rx="12" ry="8" fill="#fff" opacity="0.64"/>
<ellipse cx="89.5" cy="679.0" rx="10" ry="6" fill="#fff" opacity="0.30"/>
<ellipse cx="121.5" cy="720.0" rx="12" ry="8" fill="#fff" opacity="0.57"/>
<ellipse cx="159.5" cy="679.0" rx="10" ry="6" fill="#fff" opacity="0.30"/>
<ellipse cx="193.5" cy="720.0" rx="12" ry="8" fill="#fff" opacity="0.78"/>
<ellipse cx="231.5" cy="679.0" rx="10" ry="6" fill="#fff" opacity="0.30"/>
<ellipse cx="264.0" cy="720.0" rx="12" ry="8" fill="#fff" opacity="0.67"/>
<ellipse cx="302.0" cy="679.0" rx="10" ry="6" fill="#fff" opacity="0.30"/>
<ellipse cx="334.5" cy="720.0" rx="12" ry="8" fill="#fff" opacity="0.80"/>
<ellipse cx="372.5" cy="679.0" rx="10" ry="6" fill="#fff" opacity="0.30"/>
<ellipse cx="404.0" cy="720.0" rx="12" ry="8" fill="#fff" opacity="0.67"/>
<ellipse cx="442.0" cy="679.0" rx="10" ry="6" fill="#fff" opacity="0.30"/>
<ellipse cx="474.0" cy="720.0" rx="12" ry="8" fill="#fff" opacity="0.84"/>
<ellipse cx="512.0" cy="679.0" rx="10" ry="6" fill="#fff" opacity="0.30"/>
<ellipse cx="148.0" cy="454.0" rx="21" ry="19.5" fill="rgb(0,0,0)" opacity="1.00"/>
<ellipse cx="218.0" cy="454.0" rx="21" ry="19.5" fill="rgb(6,6,6)" opacity="1.00"/>
<ellipse cx="289.0" cy="454.0" rx="21" ry="19.5" fill="rgb(6,6,6)" opacity="1.00"/>
<ellipse cx="361.0" cy="454.0" rx="21" ry="19.5" fill="rgb(1,1,1)" opacity="1.00"/>
<ellipse cx="430.0" cy="454.0" rx="21" ry="19.5" fill="rgb(15,15,15)" opacity="1.00"/>
<ellipse cx="152.0" cy="555.0" rx="21" ry="19.5" fill="rgb(12,12,12)" opacity="1.00"/>
<ellipse cx="220.0" cy="555.0" rx="21" ry="19.5" fill="rgb(12,12,12)" opacity="1.00"/>
<ellipse cx="292.0" cy="555.0" rx="21" ry="19.5" fill="rgb(13,13,13)" opacity="1.00"/>
<ellipse cx="364.0" cy="555.0" rx="21" ry="19.5" fill="rgb(2,2,2)" opacity="1.00"/>
<ellipse cx="434.0" cy="555.0" rx="21" ry="19.5" fill="rgb(6,6,6)" opacity="1.00"/>
<ellipse cx="143.0" cy="653.0" rx="21" ry="19.5" fill="rgb(8,8,8)" opacity="1.00"/>
<ellipse cx="216.0" cy="653.0" rx="21" ry="19.5" fill="rgb(10,10,10)" opacity="1.00"/>
<ellipse cx="287.0" cy="653.0" rx="21" ry="19.5" fill="rgb(2,2,2)" opacity="1.00"/>
<ellipse cx="358.0" cy="653.0" rx="21" ry="19.5" fill="rgb(9,9,9)" opacity="1.00"/>
<ellipse cx="427.0" cy="653.0" rx="21" ry="19.5" fill="rgb(10,10,10)" opacity="1.00"/>
<ellipse cx="142.0" cy="750.0" rx="21" ry="19.5" fill="rgb(0,0,0)" opacity="1.00"/>
<ellipse cx="213.0" cy="750.0" rx="21" ry="19.5" fill="rgb(13,13,13)" opacity="1.00"/>
<ellipse cx="283.0" cy="750.0" rx="21" ry="19.5" fill="rgb(3,3,3)" opacity="1.00"/>
<ellipse cx="353.0" cy="750.0" rx="21" ry="19.5" fill="rgb(4,4,4)" opacity="1.00"/>
<ellipse cx="423.0" cy="750.0" rx="21" ry="19.5" fill="rgb(7,7,7)" opacity="1.00"/>
<ellipse cx="83.0" cy="501.0" rx="14" ry="13" fill="rgb(72,72,72)" opacity="1.00"/>
<ellipse cx="115.0" cy="504.0" rx="17.5" ry="10" fill="rgb(58,58,58)" opacity="1.00" transform="rotate(-50 115.0 504.0)"/>
<ellipse cx="153.0" cy="501.0" rx="14" ry="13" fill="rgb(50,50,50)" opacity="1.00"/>
<ellipse cx="185.0" cy="504.0" rx="17.5" ry="10" fill="rgb(56,56,56)" opacity="1.00" transform="rotate(-50 185.0 504.0)"/>
<ellipse cx="222.0" cy="501.0" rx="14" ry="13" fill="rgb(64,64,64)" opacity="1.00"/>
<ellipse cx="254.0" cy="504.0" rx="17.5" ry="10" fill="rgb(80,80,80)" opacity="1.00" transform="rotate(-50 254.0 504.0)"/>
<ellipse cx="293.5" cy="501.0" rx="14" ry="13" fill="rgb(65,65,65)" opacity="1.00"/>
<ellipse cx="325.5" cy="504.0" rx="17.5" ry="10" fill="rgb(60,60,60)" opacity="1.00" transform="rotate(-50 325.5 504.0)"/>
<ellipse cx="365.5" cy="501.0" rx="14" ry="13" fill="rgb(71,71,71)" opacity="1.00"/>
<ellipse cx="397.5" cy="504.0" rx="17.5" ry="10" fill="rgb(72,72,72)" opacity="1.00" transform="rotate(-50 397.5 504.0)"/>
<ellipse cx="435.0" cy="501.0" rx="14" ry="13" fill="rgb(56,56,56)" opacity="1.00"/>
<ellipse cx="467.0" cy="504.0" rx="17.5" ry="10" fill="rgb(69,69,69)" opacity="1.00" transform="rotate(-50 467.0 504.0)"/>
<ellipse cx="505.0" cy="501.0" rx="14" ry="13" fill="rgb(66,66,66)" opacity="1.00"/>
<ellipse cx="537.0" cy="504.0" rx="17.5" ry="10" fill="rgb(61,61,61)" opacity="1.00" transform="rotate(-50 537.0 504.0)"/>
<ellipse cx="80.5" cy="603.5" rx="14" ry="13" fill="rgb(73,73,73)" opacity="1.00"/>
<ellipse cx="112.5" cy="606.5" rx="17.5" ry="10" fill="rgb(79,79,79)" opacity="1.00" transform="rotate(-50 112.5 606.5)"/>
<ellipse cx="150.5" cy="603.5" rx="14" ry="13" fill="rgb(54,54,54)" opacity="1.00"/>
<ellipse cx="182.5" cy="606.5" rx="17.5" ry="10" fill="rgb(68,68,68)" opacity="1.00" transform="rotate(-50 182.5 606.5)"/>
<ellipse cx="221.0" cy="603.5" rx="14" ry="13" fill="rgb(70,70,70)" opacity="1.00"/>
<ellipse cx="253.0" cy="606.5" rx="17.5" ry="10" fill="rgb(67,67,67)" opacity="1.00" transform="rotate(-50 253.0 606.5)"/>
<ellipse cx="292.5" cy="603.5" rx="14" ry="13" fill="rgb(53,53,53)" opacity="1.00"/>
<ellipse cx="324.5" cy="606.5" rx="17.5" ry="10" fill="rgb(67,67,67)" opacity="1.00" transform="rotate(-50 324.5 606.5)"/>
<ellipse cx="364.0" cy="603.5" rx="14" ry="13" fill="rgb(63,63,63)" opacity="1.00"/>
<ellipse cx="396.0" cy="606.5" rx="17.5" ry="10" fill="rgb(61,61,61)" opacity="1.00" transform="rotate(-50 396.0 606.5)"/>
<ellipse cx="433.5" cy="603.5" rx="14" ry="13" fill="rgb(50,50,50)" opacity="1.00"/>
<ellipse cx="465.5" cy="606.5" rx="17.5" ry="10" fill="rgb(63,63,63)" opacity="1.00" transform="rotate(-50 465.5 606.5)"/>
<ellipse cx="503.5" cy="603.5" rx="14" ry="13" fill="rgb(75,75,75)" opacity="1.00"/>
<ellipse cx="535.5" cy="606.5" rx="17.5" ry="10" fill="rgb(73,73,73)" opacity="1.00" transform="rotate(-50 535.5 606.5)"/>
<ellipse cx="75.5" cy="701.0" rx="14" ry="13" fill="rgb(59,59,59)" opacity="1.00"/>
<ellipse cx="107.5" cy="704.0" rx="17.5" ry="10" fill="rgb(55,55,55)" opacity="1.00" transform="rotate(-50 107.5 704.0)"/>
<ellipse cx="145.5" cy="701.0" rx="14" ry="13" fill="rgb(56,56,56)" opacity="1.00"/>
<ellipse cx="177.5" cy="704.0" rx="17.5" ry="10" fill="rgb(60,60,60)" opacity="1.00" transform="rotate(-50 177.5 704.0)"/>
<ellipse cx="217.5" cy="701.0" rx="14" ry="13" fill="rgb(62,62,62)" opacity="1.00"/>
<ellipse cx="249.5" cy="704.0" rx="17.5" ry="10" fill="rgb(74,74,74)" opacity="1.00" transform="rotate(-50 249.5 704.0)"/>
<ellipse cx="288.0" cy="701.0" rx="14" ry="13" fill="rgb(70,70,70)" opacity="1.00"/>
<ellipse cx="320.0" cy="704.0" rx="17.5" ry="10" fill="rgb(73,73,73)" opacity="1.00" transform="rotate(-50 320.0 704.0)"/>
<ellipse cx="358.5" cy="701.0" rx="14" ry="13" fill="rgb(53,53,53)" opacity="1.00"/>
<ellipse cx="390.5" cy="704.0" rx="17.5" ry="10" fill="rgb(56,56,56)" opacity="1.00" transform="rotate(-50 390.5 704.0)"/>
<ellipse cx="428.0" cy="701.0" rx="14" ry="13" fill="rgb(54,54,54)" opacity="1.00"/>
<ellipse cx="460.0" cy="704.0" rx="17.5" ry="10" fill="rgb(61,61,61)" opacity="1.00" transform="rotate(-50 460.0 704.0)"/>
<ellipse cx="498.0" cy="701.0" rx="14" ry="13" fill="rgb(64,64,64)" opacity="1.00"/>
<ellipse cx="530.0" cy="704.0" rx="17.5" ry="10" fill="rgb(63,63,63)" opacity="1.00" transform="rotate(-50 530.0 704.0)"/>
</g></g>
<circle cx="147.9" cy="454.8" r="14.0" fill="#e8c49a"/>
<circle cx="147.9" cy="454.8" r="13.2" fill="url(#gA)"/>
<circle cx="151.9" cy="557.1" r="14.0" fill="#e8c49a"/>
<circle cx="151.9" cy="557.1" r="13.2" fill="url(#gA)"/>
<circle cx="116.3" cy="508.6" r="9.1" fill="#f0c0c0"/>
<circle cx="116.3" cy="508.6" r="8.4" fill="url(#gO)"/>
<circle cx="186.3" cy="508.9" r="9.1" fill="#f0c0c0"/>
<circle cx="186.3" cy="508.9" r="8.4" fill="url(#gO)"/>
<circle cx="154.6" cy="497" r="6.7" fill="#f4f8fb"/>
<circle cx="154.6" cy="497" r="4.9" fill="url(#gB)"/>
<text x="368.1" y="764.1" font-size="36.5" font-weight="bold" fill="#ff0000" text-anchor="start" textLength="107.3" lengthAdjust="spacingAndGlyphs" >SBLTO</text>
<text x="476.1" y="433" font-size="32" font-weight="bold" fill="#000" text-anchor="start" >e</text>
<g clip-path="url(#ce)">
<rect x="494.2" y="435.5" width="380.8" height="336.1" fill="#bcbcbc"/>
<g filter="url(#abf)">
<rect x="464.2" y="405.5" width="440.8" height="396.1" fill="#bcbcbc"/>
<ellipse cx="473.0" cy="600.0" rx="7" ry="220" fill="#6a6a6a" opacity="0.45"/>
<ellipse cx="544.0" cy="600.0" rx="7" ry="220" fill="#6a6a6a" opacity="0.45"/>
<ellipse cx="616.0" cy="600.0" rx="7" ry="220" fill="#6a6a6a" opacity="0.45"/>
<ellipse cx="687.0" cy="600.0" rx="7" ry="220" fill="#6a6a6a" opacity="0.45"/>
<ellipse cx="758.0" cy="600.0" rx="7" ry="220" fill="#6a6a6a" opacity="0.45"/>
<ellipse cx="829.0" cy="600.0" rx="7" ry="220" fill="#6a6a6a" opacity="0.45"/>
<ellipse cx="900.0" cy="600.0" rx="7" ry="220" fill="#6a6a6a" opacity="0.45"/>
<ellipse cx="507.0" cy="475.0" rx="14" ry="12" fill="#fff" opacity="0.74"/>
<ellipse cx="507.0" cy="433.0" rx="14" ry="11" fill="#fff" opacity="0.70"/>
<ellipse cx="578.0" cy="475.0" rx="14" ry="12" fill="#fff" opacity="0.80"/>
<ellipse cx="578.0" cy="433.0" rx="14" ry="11" fill="#fff" opacity="0.54"/>
<ellipse cx="650.0" cy="475.0" rx="14" ry="12" fill="#fff" opacity="0.60"/>
<ellipse cx="650.0" cy="433.0" rx="14" ry="11" fill="#fff" opacity="0.61"/>
<ellipse cx="721.0" cy="475.0" rx="14" ry="12" fill="#fff" opacity="0.68"/>
<ellipse cx="721.0" cy="433.0" rx="14" ry="11" fill="#fff" opacity="0.74"/>
<ellipse cx="792.0" cy="475.0" rx="14" ry="12" fill="#fff" opacity="0.81"/>
<ellipse cx="792.0" cy="433.0" rx="14" ry="11" fill="#fff" opacity="0.68"/>
<ellipse cx="863.0" cy="475.0" rx="14" ry="12" fill="#fff" opacity="0.77"/>
<ellipse cx="863.0" cy="433.0" rx="14" ry="11" fill="#fff" opacity="0.70"/>
<ellipse cx="934.0" cy="475.0" rx="14" ry="12" fill="#fff" opacity="0.64"/>
<ellipse cx="934.0" cy="433.0" rx="14" ry="11" fill="#fff" opacity="0.63"/>
<ellipse cx="507.0" cy="572.0" rx="14" ry="12" fill="#fff" opacity="0.65"/>
<ellipse cx="507.0" cy="530.0" rx="14" ry="11" fill="#fff" opacity="0.77"/>
<ellipse cx="578.0" cy="572.0" rx="14" ry="12" fill="#fff" opacity="0.62"/>
<ellipse cx="578.0" cy="530.0" rx="14" ry="11" fill="#fff" opacity="0.75"/>
<ellipse cx="650.0" cy="572.0" rx="14" ry="12" fill="#fff" opacity="0.62"/>
<ellipse cx="650.0" cy="530.0" rx="14" ry="11" fill="#fff" opacity="0.71"/>
<ellipse cx="721.0" cy="572.0" rx="14" ry="12" fill="#fff" opacity="0.70"/>
<ellipse cx="721.0" cy="530.0" rx="14" ry="11" fill="#fff" opacity="0.62"/>
<ellipse cx="792.0" cy="572.0" rx="14" ry="12" fill="#fff" opacity="0.85"/>
<ellipse cx="792.0" cy="530.0" rx="14" ry="11" fill="#fff" opacity="0.51"/>
<ellipse cx="863.0" cy="572.0" rx="14" ry="12" fill="#fff" opacity="0.62"/>
<ellipse cx="863.0" cy="530.0" rx="14" ry="11" fill="#fff" opacity="0.77"/>
<ellipse cx="934.0" cy="572.0" rx="14" ry="12" fill="#fff" opacity="0.75"/>
<ellipse cx="934.0" cy="530.0" rx="14" ry="11" fill="#fff" opacity="0.53"/>
<ellipse cx="507.0" cy="669.0" rx="14" ry="12" fill="#fff" opacity="0.90"/>
<ellipse cx="507.0" cy="627.0" rx="14" ry="11" fill="#fff" opacity="0.78"/>
<ellipse cx="578.0" cy="669.0" rx="14" ry="12" fill="#fff" opacity="0.63"/>
<ellipse cx="578.0" cy="627.0" rx="14" ry="11" fill="#fff" opacity="0.63"/>
<ellipse cx="650.0" cy="669.0" rx="14" ry="12" fill="#fff" opacity="0.64"/>
<ellipse cx="650.0" cy="627.0" rx="14" ry="11" fill="#fff" opacity="0.59"/>
<ellipse cx="721.0" cy="669.0" rx="14" ry="12" fill="#fff" opacity="0.79"/>
<ellipse cx="721.0" cy="627.0" rx="14" ry="11" fill="#fff" opacity="0.55"/>
<ellipse cx="792.0" cy="669.0" rx="14" ry="12" fill="#fff" opacity="0.81"/>
<ellipse cx="792.0" cy="627.0" rx="14" ry="11" fill="#fff" opacity="0.52"/>
<ellipse cx="863.0" cy="669.0" rx="14" ry="12" fill="#fff" opacity="0.65"/>
<ellipse cx="863.0" cy="627.0" rx="14" ry="11" fill="#fff" opacity="0.74"/>
<ellipse cx="934.0" cy="669.0" rx="14" ry="12" fill="#fff" opacity="0.72"/>
<ellipse cx="934.0" cy="627.0" rx="14" ry="11" fill="#fff" opacity="0.63"/>
<ellipse cx="507.0" cy="769.0" rx="14" ry="12" fill="#fff" opacity="0.78"/>
<ellipse cx="507.0" cy="727.0" rx="14" ry="11" fill="#fff" opacity="0.64"/>
<ellipse cx="578.0" cy="769.0" rx="14" ry="12" fill="#fff" opacity="0.72"/>
<ellipse cx="578.0" cy="727.0" rx="14" ry="11" fill="#fff" opacity="0.51"/>
<ellipse cx="650.0" cy="769.0" rx="14" ry="12" fill="#fff" opacity="0.82"/>
<ellipse cx="650.0" cy="727.0" rx="14" ry="11" fill="#fff" opacity="0.79"/>
<ellipse cx="721.0" cy="769.0" rx="14" ry="12" fill="#fff" opacity="0.89"/>
<ellipse cx="721.0" cy="727.0" rx="14" ry="11" fill="#fff" opacity="0.70"/>
<ellipse cx="792.0" cy="769.0" rx="14" ry="12" fill="#fff" opacity="0.71"/>
<ellipse cx="792.0" cy="727.0" rx="14" ry="11" fill="#fff" opacity="0.61"/>
<ellipse cx="863.0" cy="769.0" rx="14" ry="12" fill="#fff" opacity="0.81"/>
<ellipse cx="863.0" cy="727.0" rx="14" ry="11" fill="#fff" opacity="0.70"/>
<ellipse cx="934.0" cy="769.0" rx="14" ry="12" fill="#fff" opacity="0.63"/>
<ellipse cx="934.0" cy="727.0" rx="14" ry="11" fill="#fff" opacity="0.57"/>
<ellipse cx="474.0" cy="457.0" rx="23" ry="20" fill="rgb(5,5,5)" opacity="1.00" transform="rotate(-20 474.0 457.0)"/>
<ellipse cx="545.0" cy="457.0" rx="23" ry="20" fill="rgb(20,20,20)" opacity="1.00" transform="rotate(-20 545.0 457.0)"/>
<ellipse cx="617.0" cy="457.0" rx="23" ry="20" fill="rgb(15,15,15)" opacity="1.00" transform="rotate(-20 617.0 457.0)"/>
<ellipse cx="688.0" cy="457.0" rx="23" ry="20" fill="rgb(30,30,30)" opacity="1.00" transform="rotate(-20 688.0 457.0)"/>
<ellipse cx="759.0" cy="457.0" rx="23" ry="20" fill="rgb(35,35,35)" opacity="1.00" transform="rotate(-20 759.0 457.0)"/>
<ellipse cx="830.0" cy="457.0" rx="23" ry="20" fill="rgb(10,10,10)" opacity="1.00" transform="rotate(-20 830.0 457.0)"/>
<ellipse cx="901.0" cy="457.0" rx="23" ry="20" fill="rgb(20,20,20)" opacity="1.00" transform="rotate(-20 901.0 457.0)"/>
<ellipse cx="474.0" cy="554.0" rx="23" ry="20" fill="rgb(20,20,20)" opacity="1.00" transform="rotate(-20 474.0 554.0)"/>
<ellipse cx="545.0" cy="554.0" rx="23" ry="20" fill="rgb(10,10,10)" opacity="1.00" transform="rotate(-20 545.0 554.0)"/>
<ellipse cx="617.0" cy="554.0" rx="23" ry="20" fill="rgb(5,5,5)" opacity="1.00" transform="rotate(-20 617.0 554.0)"/>
<ellipse cx="688.0" cy="554.0" rx="23" ry="20" fill="rgb(15,15,15)" opacity="1.00" transform="rotate(-20 688.0 554.0)"/>
<ellipse cx="759.0" cy="554.0" rx="23" ry="20" fill="rgb(10,10,10)" opacity="1.00" transform="rotate(-20 759.0 554.0)"/>
<ellipse cx="830.0" cy="554.0" rx="23" ry="20" fill="rgb(25,25,25)" opacity="1.00" transform="rotate(-20 830.0 554.0)"/>
<ellipse cx="901.0" cy="554.0" rx="23" ry="20" fill="rgb(15,15,15)" opacity="1.00" transform="rotate(-20 901.0 554.0)"/>
<ellipse cx="474.0" cy="651.0" rx="23" ry="20" fill="rgb(10,10,10)" opacity="1.00" transform="rotate(-20 474.0 651.0)"/>
<ellipse cx="545.0" cy="651.0" rx="23" ry="20" fill="rgb(15,15,15)" opacity="1.00" transform="rotate(-20 545.0 651.0)"/>
<ellipse cx="617.0" cy="651.0" rx="23" ry="20" fill="rgb(15,15,15)" opacity="1.00" transform="rotate(-20 617.0 651.0)"/>
<ellipse cx="688.0" cy="651.0" rx="23" ry="20" fill="rgb(5,5,5)" opacity="1.00" transform="rotate(-20 688.0 651.0)"/>
<ellipse cx="759.0" cy="651.0" rx="23" ry="20" fill="rgb(25,25,25)" opacity="1.00" transform="rotate(-20 759.0 651.0)"/>
<ellipse cx="830.0" cy="651.0" rx="23" ry="20" fill="rgb(10,10,10)" opacity="1.00" transform="rotate(-20 830.0 651.0)"/>
<ellipse cx="901.0" cy="651.0" rx="23" ry="20" fill="rgb(20,20,20)" opacity="1.00" transform="rotate(-20 901.0 651.0)"/>
<ellipse cx="474.0" cy="751.0" rx="23" ry="20" fill="rgb(15,15,15)" opacity="1.00" transform="rotate(-20 474.0 751.0)"/>
<ellipse cx="545.0" cy="751.0" rx="23" ry="20" fill="rgb(10,10,10)" opacity="1.00" transform="rotate(-20 545.0 751.0)"/>
<ellipse cx="617.0" cy="751.0" rx="23" ry="20" fill="rgb(10,10,10)" opacity="1.00" transform="rotate(-20 617.0 751.0)"/>
<ellipse cx="688.0" cy="751.0" rx="23" ry="20" fill="rgb(20,20,20)" opacity="1.00" transform="rotate(-20 688.0 751.0)"/>
<ellipse cx="759.0" cy="751.0" rx="23" ry="20" fill="rgb(10,10,10)" opacity="1.00" transform="rotate(-20 759.0 751.0)"/>
<ellipse cx="830.0" cy="751.0" rx="23" ry="20" fill="rgb(20,20,20)" opacity="1.00" transform="rotate(-20 830.0 751.0)"/>
<ellipse cx="901.0" cy="751.0" rx="23" ry="20" fill="rgb(15,15,15)" opacity="1.00" transform="rotate(-20 901.0 751.0)"/>
<ellipse cx="473.0" cy="502.0" rx="11" ry="13.5" fill="rgb(76,76,76)" opacity="1.00"/>
<ellipse cx="507.0" cy="503.0" rx="13.5" ry="12" fill="rgb(66,66,66)" opacity="1.00"/>
<ellipse cx="544.0" cy="502.0" rx="11" ry="13.5" fill="rgb(81,81,81)" opacity="1.00"/>
<ellipse cx="578.0" cy="503.0" rx="13.5" ry="12" fill="rgb(73,73,73)" opacity="1.00"/>
<ellipse cx="616.0" cy="502.0" rx="11" ry="13.5" fill="rgb(90,90,90)" opacity="1.00"/>
<ellipse cx="650.0" cy="503.0" rx="13.5" ry="12" fill="rgb(79,79,79)" opacity="1.00"/>
<ellipse cx="687.0" cy="502.0" rx="11" ry="13.5" fill="rgb(81,81,81)" opacity="1.00"/>
<ellipse cx="721.0" cy="503.0" rx="13.5" ry="12" fill="rgb(60,60,60)" opacity="1.00"/>
<ellipse cx="758.0" cy="502.0" rx="11" ry="13.5" fill="rgb(65,65,65)" opacity="1.00"/>
<ellipse cx="792.0" cy="503.0" rx="13.5" ry="12" fill="rgb(67,67,67)" opacity="1.00"/>
<ellipse cx="829.0" cy="502.0" rx="11" ry="13.5" fill="rgb(78,78,78)" opacity="1.00"/>
<ellipse cx="863.0" cy="503.0" rx="13.5" ry="12" fill="rgb(56,56,56)" opacity="1.00"/>
<ellipse cx="900.0" cy="502.0" rx="11" ry="13.5" fill="rgb(81,81,81)" opacity="1.00"/>
<ellipse cx="934.0" cy="503.0" rx="13.5" ry="12" fill="rgb(55,55,55)" opacity="1.00"/>
<ellipse cx="473.0" cy="604.0" rx="11" ry="13.5" fill="rgb(72,72,72)" opacity="1.00"/>
<ellipse cx="507.0" cy="605.0" rx="13.5" ry="12" fill="rgb(76,76,76)" opacity="1.00"/>
<ellipse cx="544.0" cy="604.0" rx="11" ry="13.5" fill="rgb(78,78,78)" opacity="1.00"/>
<ellipse cx="578.0" cy="605.0" rx="13.5" ry="12" fill="rgb(56,56,56)" opacity="1.00"/>
<ellipse cx="616.0" cy="604.0" rx="11" ry="13.5" fill="rgb(77,77,77)" opacity="1.00"/>
<ellipse cx="650.0" cy="605.0" rx="13.5" ry="12" fill="rgb(61,61,61)" opacity="1.00"/>
<ellipse cx="687.0" cy="604.0" rx="11" ry="13.5" fill="rgb(89,89,89)" opacity="1.00"/>
<ellipse cx="721.0" cy="605.0" rx="13.5" ry="12" fill="rgb(74,74,74)" opacity="1.00"/>
<ellipse cx="758.0" cy="604.0" rx="11" ry="13.5" fill="rgb(68,68,68)" opacity="1.00"/>
<ellipse cx="792.0" cy="605.0" rx="13.5" ry="12" fill="rgb(79,79,79)" opacity="1.00"/>
<ellipse cx="829.0" cy="604.0" rx="11" ry="13.5" fill="rgb(82,82,82)" opacity="1.00"/>
<ellipse cx="863.0" cy="605.0" rx="13.5" ry="12" fill="rgb(62,62,62)" opacity="1.00"/>
<ellipse cx="900.0" cy="604.0" rx="11" ry="13.5" fill="rgb(70,70,70)" opacity="1.00"/>
<ellipse cx="934.0" cy="605.0" rx="13.5" ry="12" fill="rgb(57,57,57)" opacity="1.00"/>
<ellipse cx="473.0" cy="701.0" rx="11" ry="13.5" fill="rgb(87,87,87)" opacity="1.00"/>
<ellipse cx="507.0" cy="702.0" rx="13.5" ry="12" fill="rgb(63,63,63)" opacity="1.00"/>
<ellipse cx="544.0" cy="701.0" rx="11" ry="13.5" fill="rgb(66,66,66)" opacity="1.00"/>
<ellipse cx="578.0" cy="702.0" rx="13.5" ry="12" fill="rgb(68,68,68)" opacity="1.00"/>
<ellipse cx="616.0" cy="701.0" rx="11" ry="13.5" fill="rgb(73,73,73)" opacity="1.00"/>
<ellipse cx="650.0" cy="702.0" rx="13.5" ry="12" fill="rgb(70,70,70)" opacity="1.00"/>
<ellipse cx="687.0" cy="701.0" rx="11" ry="13.5" fill="rgb(76,76,76)" opacity="1.00"/>
<ellipse cx="721.0" cy="702.0" rx="13.5" ry="12" fill="rgb(74,74,74)" opacity="1.00"/>
<ellipse cx="758.0" cy="701.0" rx="11" ry="13.5" fill="rgb(85,85,85)" opacity="1.00"/>
<ellipse cx="792.0" cy="702.0" rx="13.5" ry="12" fill="rgb(78,78,78)" opacity="1.00"/>
<ellipse cx="829.0" cy="701.0" rx="11" ry="13.5" fill="rgb(66,66,66)" opacity="1.00"/>
<ellipse cx="863.0" cy="702.0" rx="13.5" ry="12" fill="rgb(71,71,71)" opacity="1.00"/>
<ellipse cx="900.0" cy="701.0" rx="11" ry="13.5" fill="rgb(79,79,79)" opacity="1.00"/>
<ellipse cx="934.0" cy="702.0" rx="13.5" ry="12" fill="rgb(66,66,66)" opacity="1.00"/>
</g></g>
<circle cx="544.1" cy="456.8" r="14.0" fill="#e8c49a"/>
<circle cx="544.1" cy="456.8" r="13.2" fill="url(#gA)"/>
<circle cx="544.1" cy="555.8" r="14.0" fill="#e8c49a"/>
<circle cx="544.1" cy="555.8" r="13.2" fill="url(#gA)"/>
<circle cx="507.4" cy="507.5" r="9.299999999999999" fill="#f0c0c0"/>
<circle cx="507.4" cy="507.5" r="8.6" fill="url(#gO)"/>
<circle cx="581.2" cy="507.1" r="9.299999999999999" fill="#f0c0c0"/>
<circle cx="581.2" cy="507.1" r="8.6" fill="url(#gO)"/>
<circle cx="544.1" cy="500.3" r="6.7" fill="#f4f8fb"/>
<circle cx="544.1" cy="500.3" r="4.9" fill="url(#gB)"/>
<text x="734.6" y="764.1" font-size="36.5" font-weight="bold" fill="#ff0000" text-anchor="start" textLength="132" lengthAdjust="spacingAndGlyphs" >SBCLTO</text>
<text x="884.6" y="433" font-size="32" font-weight="bold" fill="#000" text-anchor="start" >f</text>
<g clip-path="url(#cf)">
<rect x="884.2" y="435.5" width="389.79999999999995" height="337.0" fill="#bcbcbc"/>
<g filter="url(#abf)">
<rect x="854.2" y="405.5" width="449.79999999999995" height="397.0" fill="#bcbcbc"/>
<ellipse cx="1079.0" cy="505.0" rx="220" ry="11" fill="#8c8c8c" opacity="0.35"/>
<ellipse cx="1079.0" cy="603.0" rx="220" ry="11" fill="#8c8c8c" opacity="0.35"/>
<ellipse cx="1079.0" cy="699.0" rx="220" ry="11" fill="#8c8c8c" opacity="0.35"/>
<ellipse cx="892.1" cy="456.6" rx="10" ry="18" fill="#fff" opacity="0.79" transform="rotate(9.204095900805534 892.1 456.6)"/>
<ellipse cx="963.5" cy="450.2" rx="10" ry="18" fill="#fff" opacity="0.54" transform="rotate(-17.64200409157911 963.5 450.2)"/>
<ellipse cx="1038.9" cy="448.8" rx="10" ry="18" fill="#fff" opacity="0.54" transform="rotate(1.5657375923509136 1038.9 448.8)"/>
<ellipse cx="1106.9" cy="453.0" rx="10" ry="18" fill="#fff" opacity="0.69" transform="rotate(16.882825525164904 1106.9 453.0)"/>
<ellipse cx="1178.1" cy="450.9" rx="10" ry="18" fill="#fff" opacity="0.80" transform="rotate(-17.66448390299427 1178.1 450.9)"/>
<ellipse cx="1258.0" cy="458.3" rx="10" ry="18" fill="#fff" opacity="0.75" transform="rotate(16.318267006824122 1258.0 458.3)"/>
<ellipse cx="1331.6" cy="458.1" rx="10" ry="18" fill="#fff" opacity="0.79" transform="rotate(-12.1646011785652 1331.6 458.1)"/>
<ellipse cx="897.9" cy="558.6" rx="10" ry="18" fill="#fff" opacity="0.62" transform="rotate(3.2069299300840335 897.9 558.6)"/>
<ellipse cx="969.4" cy="554.0" rx="10" ry="18" fill="#fff" opacity="0.50" transform="rotate(-9.311931708733711 969.4 554.0)"/>
<ellipse cx="1045.1" cy="559.2" rx="10" ry="18" fill="#fff" opacity="0.73" transform="rotate(24.28405927974351 1045.1 559.2)"/>
<ellipse cx="1111.4" cy="558.5" rx="10" ry="18" fill="#fff" opacity="0.72" transform="rotate(-18.25731194005174 1111.4 558.5)"/>
<ellipse cx="1183.5" cy="550.5" rx="10" ry="18" fill="#fff" opacity="0.66" transform="rotate(-14.868668399970254 1183.5 550.5)"/>
<ellipse cx="1255.0" cy="554.4" rx="10" ry="18" fill="#fff" opacity="0.61" transform="rotate(5.274938896349319 1255.0 554.4)"/>
<ellipse cx="1327.0" cy="554.9" rx="10" ry="18" fill="#fff" opacity="0.54" transform="rotate(-13.227650312574013 1327.0 554.9)"/>
<ellipse cx="895.6" cy="651.1" rx="10" ry="18" fill="#fff" opacity="0.71" transform="rotate(-21.336211103804096 895.6 651.1)"/>
<ellipse cx="973.6" cy="651.5" rx="10" ry="18" fill="#fff" opacity="0.82" transform="rotate(10.944099509833507 973.6 651.5)"/>
<ellipse cx="1039.3" cy="648.0" rx="10" ry="18" fill="#fff" opacity="0.79" transform="rotate(15.304763875205282 1039.3 648.0)"/>
<ellipse cx="1115.1" cy="648.2" rx="10" ry="18" fill="#fff" opacity="0.80" transform="rotate(-4.325454780364279 1115.1 648.2)"/>
<ellipse cx="1190.1" cy="657.2" rx="10" ry="18" fill="#fff" opacity="0.79" transform="rotate(-14.847085362153777 1190.1 657.2)"/>
<ellipse cx="1257.0" cy="656.0" rx="10" ry="18" fill="#fff" opacity="0.84" transform="rotate(-18.149624801636026 1257.0 656.0)"/>
<ellipse cx="1330.8" cy="656.1" rx="10" ry="18" fill="#fff" opacity="0.70" transform="rotate(-14.414215511988498 1330.8 656.1)"/>
<ellipse cx="896.6" cy="753.3" rx="10" ry="18" fill="#fff" opacity="0.74" transform="rotate(-7.032442993288779 896.6 753.3)"/>
<ellipse cx="966.7" cy="749.1" rx="10" ry="18" fill="#fff" opacity="0.72" transform="rotate(-16.775828306599912 966.7 749.1)"/>
<ellipse cx="1036.9" cy="748.2" rx="10" ry="18" fill="#fff" opacity="0.71" transform="rotate(-21.54280378328817 1036.9 748.2)"/>
<ellipse cx="1112.4" cy="752.6" rx="10" ry="18" fill="#fff" opacity="0.63" transform="rotate(-23.058625321423015 1112.4 752.6)"/>
<ellipse cx="1182.7" cy="746.3" rx="10" ry="18" fill="#fff" opacity="0.85" transform="rotate(-24.851272953121185 1182.7 746.3)"/>
<ellipse cx="1253.0" cy="749.2" rx="10" ry="18" fill="#fff" opacity="0.69" transform="rotate(-11.552784008889699 1253.0 749.2)"/>
<ellipse cx="1324.6" cy="751.6" rx="10" ry="18" fill="#fff" opacity="0.78" transform="rotate(-6.665112505990372 1324.6 751.6)"/>
<ellipse cx="878.0" cy="529.0" rx="12" ry="7" fill="#fff" opacity="0.35" transform="rotate(-20 878.0 529.0)"/>
<ellipse cx="950.0" cy="529.0" rx="12" ry="7" fill="#fff" opacity="0.35" transform="rotate(-20 950.0 529.0)"/>
<ellipse cx="1021.0" cy="529.0" rx="12" ry="7" fill="#fff" opacity="0.35" transform="rotate(-20 1021.0 529.0)"/>
<ellipse cx="1092.5" cy="529.0" rx="12" ry="7" fill="#fff" opacity="0.35" transform="rotate(-20 1092.5 529.0)"/>
<ellipse cx="1166.0" cy="529.0" rx="12" ry="7" fill="#fff" opacity="0.35" transform="rotate(-20 1166.0 529.0)"/>
<ellipse cx="1239.5" cy="529.0" rx="12" ry="7" fill="#fff" opacity="0.35" transform="rotate(-20 1239.5 529.0)"/>
<ellipse cx="1312.0" cy="529.0" rx="12" ry="7" fill="#fff" opacity="0.35" transform="rotate(-20 1312.0 529.0)"/>
<ellipse cx="882.0" cy="627.0" rx="12" ry="7" fill="#fff" opacity="0.35" transform="rotate(-20 882.0 627.0)"/>
<ellipse cx="954.5" cy="627.0" rx="12" ry="7" fill="#fff" opacity="0.35" transform="rotate(-20 954.5 627.0)"/>
<ellipse cx="1026.5" cy="627.0" rx="12" ry="7" fill="#fff" opacity="0.35" transform="rotate(-20 1026.5 627.0)"/>
<ellipse cx="1095.0" cy="627.0" rx="12" ry="7" fill="#fff" opacity="0.35" transform="rotate(-20 1095.0 627.0)"/>
<ellipse cx="1168.0" cy="627.0" rx="12" ry="7" fill="#fff" opacity="0.35" transform="rotate(-20 1168.0 627.0)"/>
<ellipse cx="1241.0" cy="627.0" rx="12" ry="7" fill="#fff" opacity="0.35" transform="rotate(-20 1241.0 627.0)"/>
<ellipse cx="1314.0" cy="627.0" rx="12" ry="7" fill="#fff" opacity="0.35" transform="rotate(-20 1314.0 627.0)"/>
<ellipse cx="882.0" cy="723.0" rx="12" ry="7" fill="#fff" opacity="0.35" transform="rotate(-20 882.0 723.0)"/>
<ellipse cx="954.0" cy="723.0" rx="12" ry="7" fill="#fff" opacity="0.35" transform="rotate(-20 954.0 723.0)"/>
<ellipse cx="1027.0" cy="723.0" rx="12" ry="7" fill="#fff" opacity="0.35" transform="rotate(-20 1027.0 723.0)"/>
<ellipse cx="1098.0" cy="723.0" rx="12" ry="7" fill="#fff" opacity="0.35" transform="rotate(-20 1098.0 723.0)"/>
<ellipse cx="1171.0" cy="723.0" rx="12" ry="7" fill="#fff" opacity="0.35" transform="rotate(-20 1171.0 723.0)"/>
<ellipse cx="1242.0" cy="723.0" rx="12" ry="7" fill="#fff" opacity="0.35" transform="rotate(-20 1242.0 723.0)"/>
<ellipse cx="1314.0" cy="723.0" rx="12" ry="7" fill="#fff" opacity="0.35" transform="rotate(-20 1314.0 723.0)"/>
<ellipse cx="858.0" cy="454.0" rx="21" ry="19.5" fill="rgb(0,0,0)" opacity="1.00"/>
<ellipse cx="930.0" cy="454.0" rx="21" ry="19.5" fill="rgb(10,10,10)" opacity="1.00"/>
<ellipse cx="1001.0" cy="454.0" rx="21" ry="19.5" fill="rgb(10,10,10)" opacity="1.00"/>
<ellipse cx="1072.5" cy="454.0" rx="21" ry="19.5" fill="rgb(4,4,4)" opacity="1.00"/>
<ellipse cx="1146.0" cy="454.0" rx="21" ry="19.5" fill="rgb(15,15,15)" opacity="1.00"/>
<ellipse cx="1219.5" cy="454.0" rx="21" ry="19.5" fill="rgb(17,17,17)" opacity="1.00"/>
<ellipse cx="1292.0" cy="454.0" rx="21" ry="19.5" fill="rgb(17,17,17)" opacity="1.00"/>
<ellipse cx="862.0" cy="555.0" rx="21" ry="19.5" fill="rgb(16,16,16)" opacity="1.00"/>
<ellipse cx="934.5" cy="555.0" rx="21" ry="19.5" fill="rgb(26,26,26)" opacity="1.00"/>
<ellipse cx="1006.5" cy="555.0" rx="21" ry="19.5" fill="rgb(15,15,15)" opacity="1.00"/>
<ellipse cx="1075.0" cy="555.0" rx="21" ry="19.5" fill="rgb(7,7,7)" opacity="1.00"/>
<ellipse cx="1148.0" cy="555.0" rx="21" ry="19.5" fill="rgb(21,21,21)" opacity="1.00"/>
<ellipse cx="1221.0" cy="555.0" rx="21" ry="19.5" fill="rgb(6,6,6)" opacity="1.00"/>
<ellipse cx="1294.0" cy="555.0" rx="21" ry="19.5" fill="rgb(9,9,9)" opacity="1.00"/>
<ellipse cx="862.0" cy="653.0" rx="21" ry="19.5" fill="rgb(25,25,25)" opacity="1.00"/>
<ellipse cx="934.0" cy="653.0" rx="21" ry="19.5" fill="rgb(1,1,1)" opacity="1.00"/>
<ellipse cx="1007.0" cy="653.0" rx="21" ry="19.5" fill="rgb(12,12,12)" opacity="1.00"/>
<ellipse cx="1078.0" cy="653.0" rx="21" ry="19.5" fill="rgb(16,16,16)" opacity="1.00"/>
<ellipse cx="1151.0" cy="653.0" rx="21" ry="19.5" fill="rgb(22,22,22)" opacity="1.00"/>
<ellipse cx="1222.0" cy="653.0" rx="21" ry="19.5" fill="rgb(29,29,29)" opacity="1.00"/>
<ellipse cx="1294.0" cy="653.0" rx="21" ry="19.5" fill="rgb(5,5,5)" opacity="1.00"/>
<ellipse cx="860.0" cy="752.0" rx="21" ry="19.5" fill="rgb(23,23,23)" opacity="1.00"/>
<ellipse cx="932.0" cy="752.0" rx="21" ry="19.5" fill="rgb(4,4,4)" opacity="1.00"/>
<ellipse cx="1004.0" cy="752.0" rx="21" ry="19.5" fill="rgb(8,8,8)" opacity="1.00"/>
<ellipse cx="1076.0" cy="752.0" rx="21" ry="19.5" fill="rgb(13,13,13)" opacity="1.00"/>
<ellipse cx="1148.0" cy="752.0" rx="21" ry="19.5" fill="rgb(21,21,21)" opacity="1.00"/>
<ellipse cx="1220.0" cy="752.0" rx="21" ry="19.5" fill="rgb(26,26,26)" opacity="1.00"/>
<ellipse cx="1292.0" cy="752.0" rx="21" ry="19.5" fill="rgb(27,27,27)" opacity="1.00"/>
<ellipse cx="861.0" cy="505.0" rx="13.5" ry="13" fill="rgb(21,21,21)" opacity="1.00"/>
<ellipse cx="896.0" cy="505.0" rx="13" ry="12" fill="rgb(43,43,43)" opacity="1.00"/>
<ellipse cx="933.0" cy="505.0" rx="13.5" ry="13" fill="rgb(28,28,28)" opacity="1.00"/>
<ellipse cx="968.0" cy="505.0" rx="13" ry="12" fill="rgb(53,53,53)" opacity="1.00"/>
<ellipse cx="1004.0" cy="505.0" rx="13.5" ry="13" fill="rgb(22,22,22)" opacity="1.00"/>
<ellipse cx="1039.0" cy="505.0" rx="13" ry="12" fill="rgb(46,46,46)" opacity="1.00"/>
<ellipse cx="1075.5" cy="505.0" rx="13.5" ry="13" fill="rgb(39,39,39)" opacity="1.00"/>
<ellipse cx="1110.5" cy="505.0" rx="13" ry="12" fill="rgb(42,42,42)" opacity="1.00"/>
<ellipse cx="1149.0" cy="505.0" rx="13.5" ry="13" fill="rgb(33,33,33)" opacity="1.00"/>
<ellipse cx="1184.0" cy="505.0" rx="13" ry="12" fill="rgb(44,44,44)" opacity="1.00"/>
<ellipse cx="1222.5" cy="505.0" rx="13.5" ry="13" fill="rgb(28,28,28)" opacity="1.00"/>
<ellipse cx="1257.5" cy="505.0" rx="13" ry="12" fill="rgb(41,41,41)" opacity="1.00"/>
<ellipse cx="1295.0" cy="505.0" rx="13.5" ry="13" fill="rgb(35,35,35)" opacity="1.00"/>
<ellipse cx="1330.0" cy="505.0" rx="13" ry="12" fill="rgb(46,46,46)" opacity="1.00"/>
<ellipse cx="865.0" cy="603.0" rx="13.5" ry="13" fill="rgb(28,28,28)" opacity="1.00"/>
<ellipse cx="900.0" cy="603.0" rx="13" ry="12" fill="rgb(36,36,36)" opacity="1.00"/>
<ellipse cx="937.5" cy="603.0" rx="13.5" ry="13" fill="rgb(25,25,25)" opacity="1.00"/>
<ellipse cx="972.5" cy="603.0" rx="13" ry="12" fill="rgb(47,47,47)" opacity="1.00"/>
<ellipse cx="1009.5" cy="603.0" rx="13.5" ry="13" fill="rgb(29,29,29)" opacity="1.00"/>
<ellipse cx="1044.5" cy="603.0" rx="13" ry="12" fill="rgb(37,37,37)" opacity="1.00"/>
<ellipse cx="1078.0" cy="603.0" rx="13.5" ry="13" fill="rgb(17,17,17)" opacity="1.00"/>
<ellipse cx="1113.0" cy="603.0" rx="13" ry="12" fill="rgb(59,59,59)" opacity="1.00"/>
<ellipse cx="1151.0" cy="603.0" rx="13.5" ry="13" fill="rgb(16,16,16)" opacity="1.00"/>
<ellipse cx="1186.0" cy="603.0" rx="13" ry="12" fill="rgb(54,54,54)" opacity="1.00"/>
<ellipse cx="1224.0" cy="603.0" rx="13.5" ry="13" fill="rgb(15,15,15)" opacity="1.00"/>
<ellipse cx="1259.0" cy="603.0" rx="13" ry="12" fill="rgb(55,55,55)" opacity="1.00"/>
<ellipse cx="1297.0" cy="603.0" rx="13.5" ry="13" fill="rgb(39,39,39)" opacity="1.00"/>
<ellipse cx="1332.0" cy="603.0" rx="13" ry="12" fill="rgb(44,44,44)" opacity="1.00"/>
<ellipse cx="865.0" cy="699.0" rx="13.5" ry="13" fill="rgb(21,21,21)" opacity="1.00"/>
<ellipse cx="900.0" cy="699.0" rx="13" ry="12" fill="rgb(49,49,49)" opacity="1.00"/>
<ellipse cx="937.0" cy="699.0" rx="13.5" ry="13" fill="rgb(30,30,30)" opacity="1.00"/>
<ellipse cx="972.0" cy="699.0" rx="13" ry="12" fill="rgb(52,52,52)" opacity="1.00"/>
<ellipse cx="1010.0" cy="699.0" rx="13.5" ry="13" fill="rgb(27,27,27)" opacity="1.00"/>
<ellipse cx="1045.0" cy="699.0" rx="13" ry="12" fill="rgb(45,45,45)" opacity="1.00"/>
<ellipse cx="1081.0" cy="699.0" rx="13.5" ry="13" fill="rgb(16,16,16)" opacity="1.00"/>
<ellipse cx="1116.0" cy="699.0" rx="13" ry="12" fill="rgb(44,44,44)" opacity="1.00"/>
<ellipse cx="1154.0" cy="699.0" rx="13.5" ry="13" fill="rgb(31,31,31)" opacity="1.00"/>
<ellipse cx="1189.0" cy="699.0" rx="13" ry="12" fill="rgb(48,48,48)" opacity="1.00"/>
<ellipse cx="1225.0" cy="699.0" rx="13.5" ry="13" fill="rgb(19,19,19)" opacity="1.00"/>
<ellipse cx="1260.0" cy="699.0" rx="13" ry="12" fill="rgb(39,39,39)" opacity="1.00"/>
<ellipse cx="1297.0" cy="699.0" rx="13.5" ry="13" fill="rgb(16,16,16)" opacity="1.00"/>
<ellipse cx="1332.0" cy="699.0" rx="13" ry="12" fill="rgb(38,38,38)" opacity="1.00"/>
</g></g>
<circle cx="931" cy="453.5" r="14.200000000000001" fill="#e8c49a"/>
<circle cx="931" cy="453.5" r="13.4" fill="url(#gA)"/>
<circle cx="934.5" cy="555.7" r="14.200000000000001" fill="#e8c49a"/>
<circle cx="934.5" cy="555.7" r="13.4" fill="url(#gA)"/>
<circle cx="900.3" cy="505.8" r="9.5" fill="#f0c0c0"/>
<circle cx="900.3" cy="505.8" r="8.8" fill="url(#gO)"/>
<circle cx="971.2" cy="505.1" r="9.5" fill="#f0c0c0"/>
<circle cx="971.2" cy="505.1" r="8.8" fill="url(#gO)"/>
<circle cx="934.5" cy="505.8" r="6.8" fill="#f4f8fb"/>
<circle cx="934.5" cy="505.8" r="5" fill="url(#gB)"/>
<rect x="942.5" y="753.8" width="131.5" height="8.7" fill="#ffc000"/>
<text x="1107.2" y="765" font-size="36.5" font-weight="bold" fill="#ff0000" text-anchor="start" textLength="152" lengthAdjust="spacingAndGlyphs" >SBCPLTO</text>
<text x="959.6" y="427.5" font-size="32" font-weight="normal" fill="#000" text-anchor="start" textLength="20.5" lengthAdjust="spacingAndGlyphs" stroke="#000" stroke-width="0.55">A</text>
<circle cx="1005.4" cy="415.6" r="17.0" fill="#e8c49a"/>
<circle cx="1005.4" cy="415.6" r="16.2" fill="url(#gA)"/>
<text x="1045" y="427.5" font-size="32" font-weight="normal" fill="#000" text-anchor="start" textLength="24.6" lengthAdjust="spacingAndGlyphs" stroke="#000" stroke-width="0.55">Ti</text>
<circle cx="1089.6" cy="416.7" r="6.6" fill="url(#gB2)"/>
<text x="1118.5" y="427.5" font-size="32" font-weight="normal" fill="#000" text-anchor="start" textLength="21.6" lengthAdjust="spacingAndGlyphs" stroke="#000" stroke-width="0.55">O</text>
<circle cx="1157.5" cy="416.7" r="11.7" fill="#f0c0c0"/>
<circle cx="1157.5" cy="416.7" r="11" fill="url(#gO)"/>
<text x="1197.9" y="426.6" font-size="31" font-weight="normal" fill="#000" text-anchor="start" textLength="73.4" lengthAdjust="spacingAndGlyphs" stroke="#000" stroke-width="0.55">[110]</text>
<text x="72" y="812" font-size="32" font-weight="bold" fill="#000" text-anchor="start" >g</text>
<path d="M194.0,887.7 C211.7,889.2 256.4,891.7 300.0,896.8 C343.6,901.9 374.9,907.6 455.7,918.5 C536.5,929.4 694.3,947.8 785.0,962.0 C875.7,976.2 939.2,990.8 1000.0,1004.0 C1060.8,1017.2 1125.0,1034.8 1150.0,1041.0" fill="none" stroke="#1b6cdc" stroke-opacity="0.11" stroke-width="10"/>
<path d="M196.0,1035.8 C213.3,1034.4 256.7,1031.3 300.0,1027.5 C343.3,1023.7 374.9,1023.9 455.7,1013.0 C536.5,1002.1 694.3,979.7 785.0,962.0 C875.7,944.3 940.8,925.2 1000.0,907.0 C1059.2,888.8 1116.7,862.0 1140.0,853.0" fill="none" stroke="#ee3a3c" stroke-opacity="0.14" stroke-width="10"/>
<polygon points="1177.9,836.7 1122.4,848.5 1136,874.6" fill="#ee3a3c" fill-opacity="0.09" stroke="#ee3a3c" stroke-width="6" stroke-linejoin="round" stroke-opacity="0.13"/>
<path d="M1140,853 L1170,840" stroke="#ee3a3c" stroke-opacity="0.1" stroke-width="7" stroke-linecap="round"/>
<polygon points="1187,1052.5 1138.2,1024.2 1129.2,1052.5" fill="#1b6cdc" fill-opacity="0.09" stroke="#1b6cdc" stroke-width="6" stroke-linejoin="round" stroke-opacity="0.11"/>
<path d="M1150,1041 L1180,1050" stroke="#1b6cdc" stroke-opacity="0.08" stroke-width="7" stroke-linecap="round"/>
<line x1="131.2" y1="816.5" x2="131.2" y2="1068.2" stroke="#ee3a3c" stroke-width="4"/>
<line x1="129.2" y1="1066.2" x2="1233.3" y2="1066.2" stroke="#ee3a3c" stroke-width="4"/>
<line x1="128.3" y1="818.4" x2="1237.5" y2="818.4" stroke="#1b6cdc" stroke-width="4.4"/>
<line x1="1235.3" y1="816.3" x2="1235.3" y2="1068.2" stroke="#1b6cdc" stroke-width="4"/>
<line x1="131" y1="1037.3" x2="140" y2="1037.3" stroke="#ee3a3c" stroke-width="4.2"/>
<text x="95.3" y="1045.1950000000002" font-size="26" font-weight="bold" fill="#ee3a3c" text-anchor="start" textLength="25.3" lengthAdjust="spacingAndGlyphs" >15</text>
<line x1="131" y1="980.2" x2="140" y2="980.2" stroke="#ee3a3c" stroke-width="4.2"/>
<text x="95.3" y="988.09" font-size="26" font-weight="bold" fill="#ee3a3c" text-anchor="start" textLength="25.3" lengthAdjust="spacingAndGlyphs" >30</text>
<line x1="131" y1="923.1" x2="140" y2="923.1" stroke="#ee3a3c" stroke-width="4.2"/>
<text x="95.3" y="930.985" font-size="26" font-weight="bold" fill="#ee3a3c" text-anchor="start" textLength="25.3" lengthAdjust="spacingAndGlyphs" >45</text>
<line x1="131" y1="866.0" x2="140" y2="866.0" stroke="#ee3a3c" stroke-width="4.2"/>
<text x="95.3" y="873.8800000000001" font-size="26" font-weight="bold" fill="#ee3a3c" text-anchor="start" textLength="25.3" lengthAdjust="spacingAndGlyphs" >60</text>
<line x1="131" y1="1008.7" x2="135" y2="1008.7" stroke="#ee3a3c" stroke-width="4"/>
<line x1="131" y1="951.6" x2="135" y2="951.6" stroke="#ee3a3c" stroke-width="4"/>
<line x1="131" y1="894.5" x2="135" y2="894.5" stroke="#ee3a3c" stroke-width="4"/>
<line x1="131" y1="837.4" x2="135" y2="837.4" stroke="#ee3a3c" stroke-width="4"/>
<line x1="1226.5" y1="1048.5" x2="1235.5" y2="1048.5" stroke="#1b6cdc" stroke-width="4.2"/>
<text x="1245.1" y="1056.1" font-size="26" font-weight="bold" fill="#1b6cdc" text-anchor="start" textLength="46" lengthAdjust="spacingAndGlyphs" >0.00</text>
<line x1="1226.5" y1="977.6" x2="1235.5" y2="977.6" stroke="#1b6cdc" stroke-width="4.2"/>
<text x="1245.1" y="985.2" font-size="26" font-weight="bold" fill="#1b6cdc" text-anchor="start" textLength="46" lengthAdjust="spacingAndGlyphs" >0.04</text>
<line x1="1226.5" y1="906.7" x2="1235.5" y2="906.7" stroke="#1b6cdc" stroke-width="4.2"/>
<text x="1245.1" y="914.3000000000001" font-size="26" font-weight="bold" fill="#1b6cdc" text-anchor="start" textLength="46" lengthAdjust="spacingAndGlyphs" >0.08</text>
<line x1="1226.5" y1="835.8" x2="1235.5" y2="835.8" stroke="#1b6cdc" stroke-width="4.2"/>
<text x="1245.1" y="843.4" font-size="26" font-weight="bold" fill="#1b6cdc" text-anchor="start" textLength="46" lengthAdjust="spacingAndGlyphs" >0.12</text>
<line x1="1231.5" y1="1013.0" x2="1235.5" y2="1013.0" stroke="#1b6cdc" stroke-width="4"/>
<line x1="1231.5" y1="942.1" x2="1235.5" y2="942.1" stroke="#1b6cdc" stroke-width="4"/>
<line x1="1231.5" y1="871.2" x2="1235.5" y2="871.2" stroke="#1b6cdc" stroke-width="4"/>
<rect x="249.7" y="1019.7" width="16" height="16" fill="none" stroke="#ee3a3c" stroke-width="3.2"/>
<rect x="675.0" y="972.1" width="16" height="16" fill="none" stroke="#ee3a3c" stroke-width="3.2"/>
<rect x="1099.6" y="838.2" width="16" height="16" fill="none" stroke="#ee3a3c" stroke-width="3.2"/>
<line x1="257.7" y1="842" x2="257.7" y2="936.6" stroke="#1b6cdc" stroke-width="3.5"/>
<line x1="249.7" y1="842" x2="265.7" y2="842" stroke="#1b6cdc" stroke-width="3.5" stroke-linecap="round"/>
<line x1="249.7" y1="936.6" x2="265.7" y2="936.6" stroke="#1b6cdc" stroke-width="3.5" stroke-linecap="round"/>
<ellipse cx="257.7" cy="889" rx="10" ry="10" fill="none" stroke="#1b6cdc" stroke-width="3.3"/>
<line x1="683" y1="921.6" x2="683" y2="998.4" stroke="#1b6cdc" stroke-width="3.5"/>
<line x1="675" y1="921.6" x2="691" y2="921.6" stroke="#1b6cdc" stroke-width="3.5" stroke-linecap="round"/>
<line x1="675" y1="998.4" x2="691" y2="998.4" stroke="#1b6cdc" stroke-width="3.5" stroke-linecap="round"/>
<ellipse cx="683" cy="959" rx="10" ry="10" fill="none" stroke="#1b6cdc" stroke-width="3.3"/>
<line x1="1107.6" y1="1015" x2="1107.6" y2="1041.3" stroke="#1b6cdc" stroke-width="3.5"/>
<line x1="1099.6" y1="1015" x2="1115.6" y2="1015" stroke="#1b6cdc" stroke-width="3.5" stroke-linecap="round"/>
<line x1="1099.6" y1="1041.3" x2="1115.6" y2="1041.3" stroke="#1b6cdc" stroke-width="3.5" stroke-linecap="round"/>
<ellipse cx="1107.6" cy="1028.6" rx="10" ry="10" fill="none" stroke="#1b6cdc" stroke-width="3.3"/>
<text x="204" y="1109.8" font-size="38.5" font-weight="bold" fill="#000" text-anchor="start" textLength="126" lengthAdjust="spacingAndGlyphs" >SBLTO</text>
<text x="611.2" y="1109.8" font-size="38.5" font-weight="bold" fill="#000" text-anchor="start" textLength="154" lengthAdjust="spacingAndGlyphs" >SBCLTO</text>
<text x="1020.2" y="1110" font-size="38.5" font-weight="bold" fill="#000" text-anchor="start" textLength="179" lengthAdjust="spacingAndGlyphs" >SBCPLTO</text>
<g transform="translate(23.8,966) rotate(-90)">
<text x="-1" y="0" font-size="32" font-weight="bold" font-style="italic" fill="#ee3a3c" textLength="23" lengthAdjust="spacingAndGlyphs">μ</text>
<text x="23.1" y="7.3" font-size="27.5" font-weight="bold" fill="#ee3a3c" textLength="25" lengthAdjust="spacingAndGlyphs">W</text>
</g>
<g transform="translate(81.9,1028.2) rotate(-90)" font-size="28" font-weight="bold" fill="#ee3a3c">
<text x="0" y="0" textLength="43" lengthAdjust="spacingAndGlyphs">(cm</text>
<text x="43.2" y="-10.5" textLength="15.6" lengthAdjust="spacingAndGlyphs">2</text>
<text x="65.5" y="0" textLength="16.5" lengthAdjust="spacingAndGlyphs">V</text>
<text x="100.2" y="-10.5" textLength="12" lengthAdjust="spacingAndGlyphs">1</text>
<text x="121.6" y="0" textLength="12.4" lengthAdjust="spacingAndGlyphs">s</text>
<text x="152.6" y="-10.5" textLength="12" lengthAdjust="spacingAndGlyphs">1</text>
<text x="165.2" y="0" textLength="9.5" lengthAdjust="spacingAndGlyphs">)</text>
<rect x="85.4" y="-16.7" width="8.8" height="1.6"/>
<rect x="139.4" y="-16.7" width="8.8" height="1.6"/>
</g>
<g transform="translate(1323.4,918) rotate(90)" fill="#1b6cdc">
<text x="0" y="0" font-size="38" font-weight="bold" font-style="italic" textLength="23.5" lengthAdjust="spacingAndGlyphs">d</text>
<text x="21" y="12.2" font-size="27.5" font-weight="bold" textLength="22" lengthAdjust="spacingAndGlyphs">Ti</text>
<rect x="-2" y="-34.1" width="22.7" height="3.1"/>
</g>
</svg></body></html>
